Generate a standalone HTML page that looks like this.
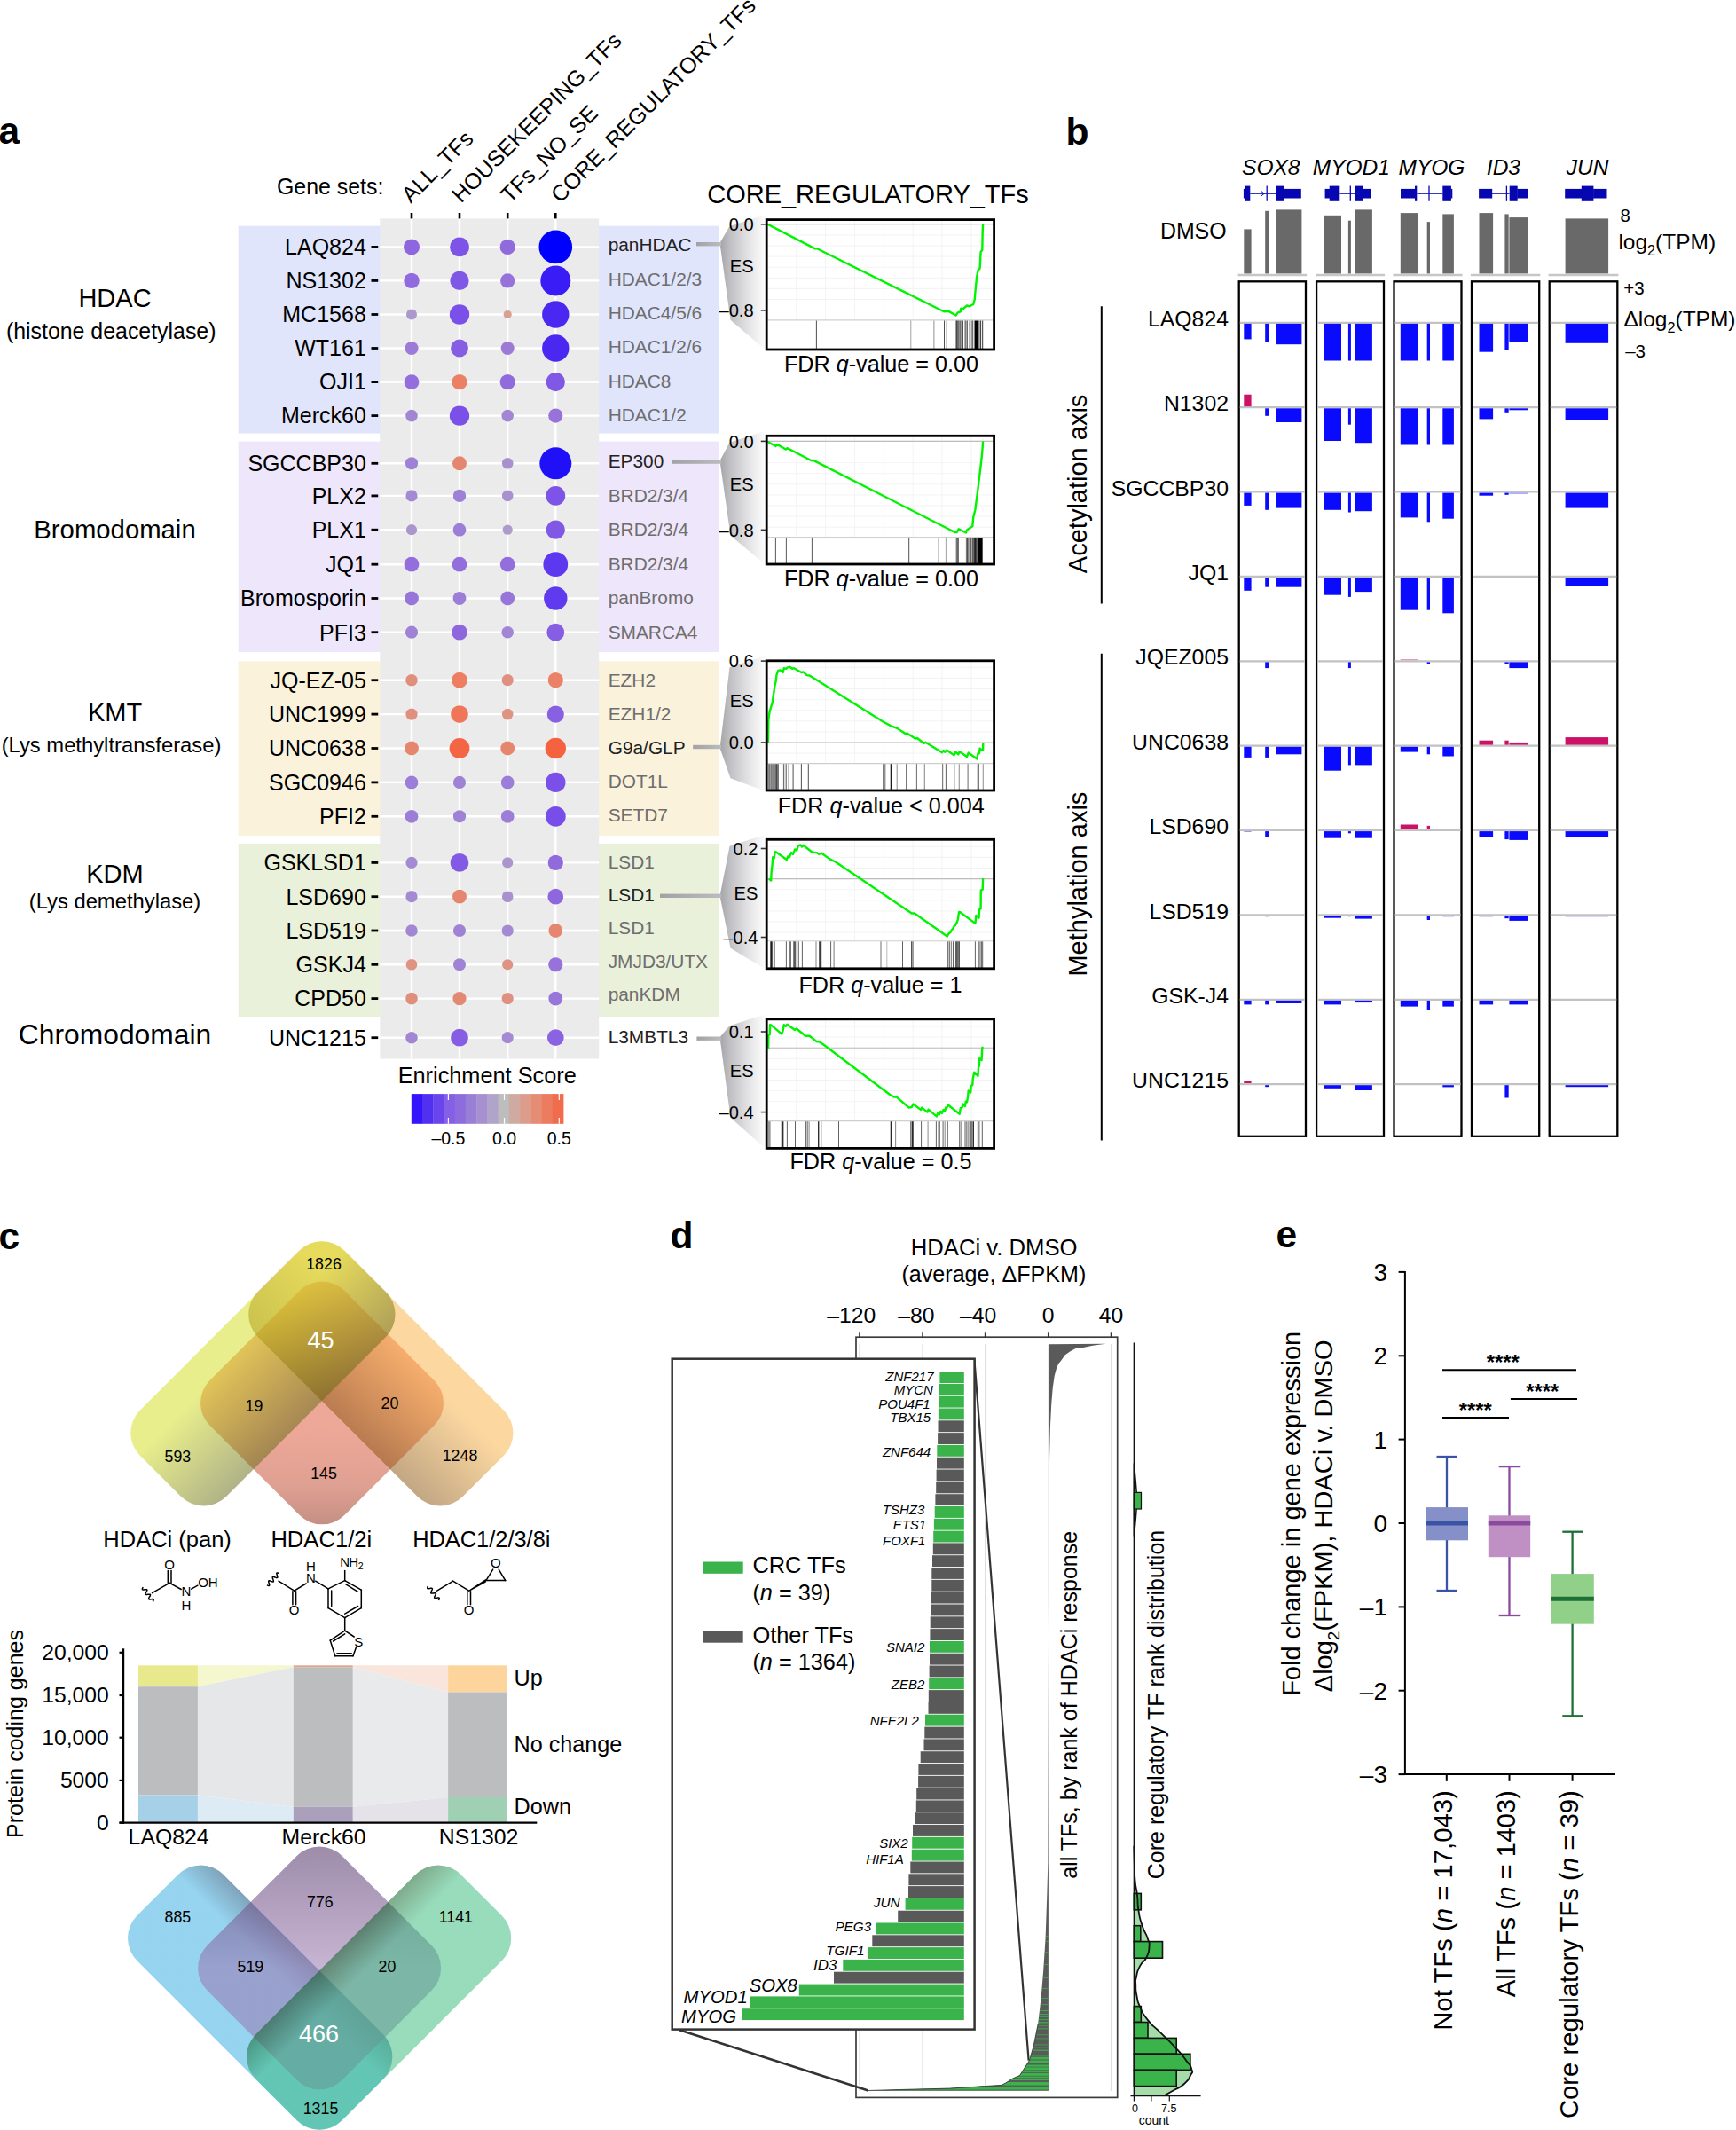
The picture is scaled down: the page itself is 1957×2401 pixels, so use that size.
<!DOCTYPE html>
<html lang="en"><head><meta charset="utf-8"><title>Figure</title>
<style>
html,body{margin:0;padding:0;background:#fff;}
body{width:1957px;height:2401px;overflow:hidden;}
svg{display:block;font-family:"Liberation Sans", "DejaVu Sans", sans-serif;}
</style></head><body>
<svg width="1957" height="2401" viewBox="0 0 1957 2401">
<rect width="1957" height="2401" fill="#ffffff"/>
<g id="panel-a">
<text x="-1.5" y="162.0" font-size="42.5" font-weight="bold">a</text>
<rect x="268.7" y="254.7" width="542.3" height="233.9" fill="#e0e5fb" />
<rect x="268.7" y="497.6" width="542.3" height="237.4" fill="#eee6fb" />
<rect x="268.7" y="745.3" width="542.3" height="196.7" fill="#fbf2dc" />
<rect x="268.7" y="951.0" width="542.3" height="195.0" fill="#eaf1da" />
<rect x="428.3" y="246.4" width="246.9" height="947.1" fill="#ebebeb" />
<line x1="464.0" y1="246.4" x2="464.0" y2="1193.5" stroke="#fff" stroke-width="2.4" />
<line x1="464.0" y1="240.0" x2="464.0" y2="246.4" stroke="#000" stroke-width="2.6" />
<line x1="518.0" y1="246.4" x2="518.0" y2="1193.5" stroke="#fff" stroke-width="2.4" />
<line x1="518.0" y1="240.0" x2="518.0" y2="246.4" stroke="#000" stroke-width="2.6" />
<line x1="572.2" y1="246.4" x2="572.2" y2="1193.5" stroke="#fff" stroke-width="2.4" />
<line x1="572.2" y1="240.0" x2="572.2" y2="246.4" stroke="#000" stroke-width="2.6" />
<line x1="626.3" y1="246.4" x2="626.3" y2="1193.5" stroke="#fff" stroke-width="2.4" />
<line x1="626.3" y1="240.0" x2="626.3" y2="246.4" stroke="#000" stroke-width="2.6" />
<line x1="428.3" y1="278.4" x2="675.2" y2="278.4" stroke="#fff" stroke-width="2.4" />
<line x1="428.3" y1="316.4" x2="675.2" y2="316.4" stroke="#fff" stroke-width="2.4" />
<line x1="428.3" y1="354.5" x2="675.2" y2="354.5" stroke="#fff" stroke-width="2.4" />
<line x1="428.3" y1="392.5" x2="675.2" y2="392.5" stroke="#fff" stroke-width="2.4" />
<line x1="428.3" y1="430.6" x2="675.2" y2="430.6" stroke="#fff" stroke-width="2.4" />
<line x1="428.3" y1="468.6" x2="675.2" y2="468.6" stroke="#fff" stroke-width="2.4" />
<line x1="428.3" y1="522.3" x2="675.2" y2="522.3" stroke="#fff" stroke-width="2.4" />
<line x1="428.3" y1="558.9" x2="675.2" y2="558.9" stroke="#fff" stroke-width="2.4" />
<line x1="428.3" y1="597.2" x2="675.2" y2="597.2" stroke="#fff" stroke-width="2.4" />
<line x1="428.3" y1="636.2" x2="675.2" y2="636.2" stroke="#fff" stroke-width="2.4" />
<line x1="428.3" y1="674.5" x2="675.2" y2="674.5" stroke="#fff" stroke-width="2.4" />
<line x1="428.3" y1="712.7" x2="675.2" y2="712.7" stroke="#fff" stroke-width="2.4" />
<line x1="428.3" y1="766.7" x2="675.2" y2="766.7" stroke="#fff" stroke-width="2.4" />
<line x1="428.3" y1="805.1" x2="675.2" y2="805.1" stroke="#fff" stroke-width="2.4" />
<line x1="428.3" y1="843.5" x2="675.2" y2="843.5" stroke="#fff" stroke-width="2.4" />
<line x1="428.3" y1="881.9" x2="675.2" y2="881.9" stroke="#fff" stroke-width="2.4" />
<line x1="428.3" y1="920.3" x2="675.2" y2="920.3" stroke="#fff" stroke-width="2.4" />
<line x1="428.3" y1="972.4" x2="675.2" y2="972.4" stroke="#fff" stroke-width="2.4" />
<line x1="428.3" y1="1010.7" x2="675.2" y2="1010.7" stroke="#fff" stroke-width="2.4" />
<line x1="428.3" y1="1049.0" x2="675.2" y2="1049.0" stroke="#fff" stroke-width="2.4" />
<line x1="428.3" y1="1087.3" x2="675.2" y2="1087.3" stroke="#fff" stroke-width="2.4" />
<line x1="428.3" y1="1125.6" x2="675.2" y2="1125.6" stroke="#fff" stroke-width="2.4" />
<line x1="428.3" y1="1169.7" x2="675.2" y2="1169.7" stroke="#fff" stroke-width="2.4" />
<text x="412.8" y="287.2" font-size="25.0" text-anchor="end">LAQ824</text>
<line x1="418.5" y1="278.4" x2="426.2" y2="278.4" stroke="#000" stroke-width="2.8" />
<text x="412.8" y="325.2" font-size="25.0" text-anchor="end">NS1302</text>
<line x1="418.5" y1="316.4" x2="426.2" y2="316.4" stroke="#000" stroke-width="2.8" />
<text x="412.8" y="363.3" font-size="25.0" text-anchor="end">MC1568</text>
<line x1="418.5" y1="354.5" x2="426.2" y2="354.5" stroke="#000" stroke-width="2.8" />
<text x="412.8" y="401.3" font-size="25.0" text-anchor="end">WT161</text>
<line x1="418.5" y1="392.5" x2="426.2" y2="392.5" stroke="#000" stroke-width="2.8" />
<text x="412.8" y="439.4" font-size="25.0" text-anchor="end">OJI1</text>
<line x1="418.5" y1="430.6" x2="426.2" y2="430.6" stroke="#000" stroke-width="2.8" />
<text x="412.8" y="477.4" font-size="25.0" text-anchor="end">Merck60</text>
<line x1="418.5" y1="468.6" x2="426.2" y2="468.6" stroke="#000" stroke-width="2.8" />
<text x="412.8" y="531.1" font-size="25.0" text-anchor="end">SGCCBP30</text>
<line x1="418.5" y1="522.3" x2="426.2" y2="522.3" stroke="#000" stroke-width="2.8" />
<text x="412.8" y="567.7" font-size="25.0" text-anchor="end">PLX2</text>
<line x1="418.5" y1="558.9" x2="426.2" y2="558.9" stroke="#000" stroke-width="2.8" />
<text x="412.8" y="606.0" font-size="25.0" text-anchor="end">PLX1</text>
<line x1="418.5" y1="597.2" x2="426.2" y2="597.2" stroke="#000" stroke-width="2.8" />
<text x="412.8" y="645.0" font-size="25.0" text-anchor="end">JQ1</text>
<line x1="418.5" y1="636.2" x2="426.2" y2="636.2" stroke="#000" stroke-width="2.8" />
<text x="412.8" y="683.3" font-size="25.0" text-anchor="end">Bromosporin</text>
<line x1="418.5" y1="674.5" x2="426.2" y2="674.5" stroke="#000" stroke-width="2.8" />
<text x="412.8" y="721.5" font-size="25.0" text-anchor="end">PFI3</text>
<line x1="418.5" y1="712.7" x2="426.2" y2="712.7" stroke="#000" stroke-width="2.8" />
<text x="412.8" y="775.5" font-size="25.0" text-anchor="end">JQ-EZ-05</text>
<line x1="418.5" y1="766.7" x2="426.2" y2="766.7" stroke="#000" stroke-width="2.8" />
<text x="412.8" y="813.9" font-size="25.0" text-anchor="end">UNC1999</text>
<line x1="418.5" y1="805.1" x2="426.2" y2="805.1" stroke="#000" stroke-width="2.8" />
<text x="412.8" y="852.3" font-size="25.0" text-anchor="end">UNC0638</text>
<line x1="418.5" y1="843.5" x2="426.2" y2="843.5" stroke="#000" stroke-width="2.8" />
<text x="412.8" y="890.7" font-size="25.0" text-anchor="end">SGC0946</text>
<line x1="418.5" y1="881.9" x2="426.2" y2="881.9" stroke="#000" stroke-width="2.8" />
<text x="412.8" y="929.1" font-size="25.0" text-anchor="end">PFI2</text>
<line x1="418.5" y1="920.3" x2="426.2" y2="920.3" stroke="#000" stroke-width="2.8" />
<text x="412.8" y="981.2" font-size="25.0" text-anchor="end">GSKLSD1</text>
<line x1="418.5" y1="972.4" x2="426.2" y2="972.4" stroke="#000" stroke-width="2.8" />
<text x="412.8" y="1019.5" font-size="25.0" text-anchor="end">LSD690</text>
<line x1="418.5" y1="1010.7" x2="426.2" y2="1010.7" stroke="#000" stroke-width="2.8" />
<text x="412.8" y="1057.8" font-size="25.0" text-anchor="end">LSD519</text>
<line x1="418.5" y1="1049.0" x2="426.2" y2="1049.0" stroke="#000" stroke-width="2.8" />
<text x="412.8" y="1096.1" font-size="25.0" text-anchor="end">GSKJ4</text>
<line x1="418.5" y1="1087.3" x2="426.2" y2="1087.3" stroke="#000" stroke-width="2.8" />
<text x="412.8" y="1134.4" font-size="25.0" text-anchor="end">CPD50</text>
<line x1="418.5" y1="1125.6" x2="426.2" y2="1125.6" stroke="#000" stroke-width="2.8" />
<text x="412.8" y="1178.5" font-size="25.0" text-anchor="end">UNC1215</text>
<line x1="418.5" y1="1169.7" x2="426.2" y2="1169.7" stroke="#000" stroke-width="2.8" />
<circle cx="464.0" cy="278.4" r="9.0" fill="#8d66e0"/>
<circle cx="518.0" cy="278.4" r="10.9" fill="#7d54e7"/>
<circle cx="572.2" cy="278.4" r="8.6" fill="#916bdd"/>
<circle cx="626.3" cy="278.4" r="18.8" fill="#0000ff"/>
<circle cx="464.0" cy="316.4" r="8.7" fill="#906ade"/>
<circle cx="518.0" cy="316.4" r="10.6" fill="#8058e6"/>
<circle cx="572.2" cy="316.4" r="8.1" fill="#9672da"/>
<circle cx="626.3" cy="316.4" r="17.0" fill="#3a1cf6"/>
<circle cx="464.0" cy="354.5" r="6.0" fill="#ab98cc"/>
<circle cx="518.0" cy="354.5" r="11.2" fill="#7a50e8"/>
<circle cx="572.2" cy="354.5" r="4.6" fill="#d9a193"/>
<circle cx="626.3" cy="354.5" r="15.2" fill="#4b28f2"/>
<circle cx="464.0" cy="392.5" r="7.6" fill="#9b7ad8"/>
<circle cx="518.0" cy="392.5" r="9.9" fill="#865ee4"/>
<circle cx="572.2" cy="392.5" r="7.5" fill="#9c7bd7"/>
<circle cx="626.3" cy="392.5" r="15.2" fill="#4b28f2"/>
<circle cx="464.0" cy="430.6" r="8.4" fill="#936edc"/>
<circle cx="518.0" cy="430.6" r="8.7" fill="#ec8065"/>
<circle cx="572.2" cy="430.6" r="8.6" fill="#916bdd"/>
<circle cx="626.3" cy="430.6" r="10.6" fill="#8058e6"/>
<circle cx="464.0" cy="468.6" r="6.8" fill="#a286d4"/>
<circle cx="518.0" cy="468.6" r="11.2" fill="#7a50e8"/>
<circle cx="572.2" cy="468.6" r="6.8" fill="#a286d4"/>
<circle cx="626.3" cy="468.6" r="8.1" fill="#9672da"/>
<circle cx="464.0" cy="522.3" r="7.1" fill="#9f81d5"/>
<circle cx="518.0" cy="522.3" r="8.0" fill="#e5866e"/>
<circle cx="572.2" cy="522.3" r="6.3" fill="#a891cf"/>
<circle cx="626.3" cy="522.3" r="18.0" fill="#2010f8"/>
<circle cx="464.0" cy="558.9" r="6.6" fill="#a48ad2"/>
<circle cx="518.0" cy="558.9" r="7.2" fill="#9e80d6"/>
<circle cx="572.2" cy="558.9" r="6.3" fill="#a891cf"/>
<circle cx="626.3" cy="558.9" r="10.9" fill="#7d54e7"/>
<circle cx="464.0" cy="597.2" r="6.1" fill="#aa96cd"/>
<circle cx="518.0" cy="597.2" r="7.4" fill="#9c7dd7"/>
<circle cx="572.2" cy="597.2" r="5.6" fill="#ad9bca"/>
<circle cx="626.3" cy="597.2" r="10.6" fill="#8058e6"/>
<circle cx="464.0" cy="636.2" r="8.4" fill="#936edc"/>
<circle cx="518.0" cy="636.2" r="8.4" fill="#936edc"/>
<circle cx="572.2" cy="636.2" r="8.4" fill="#936edc"/>
<circle cx="626.3" cy="636.2" r="13.9" fill="#5c38ee"/>
<circle cx="464.0" cy="674.5" r="7.9" fill="#9875d9"/>
<circle cx="518.0" cy="674.5" r="7.4" fill="#9c7dd7"/>
<circle cx="572.2" cy="674.5" r="7.9" fill="#9875d9"/>
<circle cx="626.3" cy="674.5" r="13.2" fill="#603aee"/>
<circle cx="464.0" cy="712.7" r="7.1" fill="#9f81d5"/>
<circle cx="518.0" cy="712.7" r="8.9" fill="#8e67df"/>
<circle cx="572.2" cy="712.7" r="6.8" fill="#a286d4"/>
<circle cx="626.3" cy="712.7" r="9.9" fill="#865ee4"/>
<circle cx="464.0" cy="766.7" r="6.8" fill="#e08f7d"/>
<circle cx="518.0" cy="766.7" r="8.9" fill="#ee7e62"/>
<circle cx="572.2" cy="766.7" r="6.6" fill="#df9080"/>
<circle cx="626.3" cy="766.7" r="8.6" fill="#eb8166"/>
<circle cx="464.0" cy="805.1" r="6.6" fill="#df9080"/>
<circle cx="518.0" cy="805.1" r="9.9" fill="#ef7658"/>
<circle cx="572.2" cy="805.1" r="6.3" fill="#de9383"/>
<circle cx="626.3" cy="805.1" r="9.6" fill="#8861e3"/>
<circle cx="464.0" cy="843.5" r="7.9" fill="#e5876f"/>
<circle cx="518.0" cy="843.5" r="11.4" fill="#f36543"/>
<circle cx="572.2" cy="843.5" r="7.9" fill="#e5876f"/>
<circle cx="626.3" cy="843.5" r="11.7" fill="#f4623f"/>
<circle cx="464.0" cy="881.9" r="7.4" fill="#9c7dd7"/>
<circle cx="518.0" cy="881.9" r="7.1" fill="#9f81d5"/>
<circle cx="572.2" cy="881.9" r="7.4" fill="#9c7dd7"/>
<circle cx="626.3" cy="881.9" r="11.2" fill="#7a50e8"/>
<circle cx="464.0" cy="920.3" r="7.4" fill="#9c7dd7"/>
<circle cx="518.0" cy="920.3" r="7.1" fill="#9f81d5"/>
<circle cx="572.2" cy="920.3" r="7.4" fill="#9c7dd7"/>
<circle cx="626.3" cy="920.3" r="11.4" fill="#774ee9"/>
<circle cx="464.0" cy="972.4" r="6.6" fill="#a48ad2"/>
<circle cx="518.0" cy="972.4" r="10.4" fill="#825ae5"/>
<circle cx="572.2" cy="972.4" r="6.1" fill="#aa96cd"/>
<circle cx="626.3" cy="972.4" r="8.6" fill="#916bdd"/>
<circle cx="464.0" cy="1010.7" r="6.6" fill="#a48ad2"/>
<circle cx="518.0" cy="1010.7" r="7.9" fill="#e5876f"/>
<circle cx="572.2" cy="1010.7" r="6.3" fill="#a891cf"/>
<circle cx="626.3" cy="1010.7" r="8.9" fill="#8e67df"/>
<circle cx="464.0" cy="1049.0" r="6.8" fill="#a286d4"/>
<circle cx="518.0" cy="1049.0" r="7.1" fill="#9f81d5"/>
<circle cx="572.2" cy="1049.0" r="6.6" fill="#a48ad2"/>
<circle cx="626.3" cy="1049.0" r="7.9" fill="#e5876f"/>
<circle cx="464.0" cy="1087.3" r="6.3" fill="#de9383"/>
<circle cx="518.0" cy="1087.3" r="7.0" fill="#a083d5"/>
<circle cx="572.2" cy="1087.3" r="6.1" fill="#de9485"/>
<circle cx="626.3" cy="1087.3" r="8.1" fill="#9672da"/>
<circle cx="464.0" cy="1125.6" r="6.8" fill="#e08f7d"/>
<circle cx="518.0" cy="1125.6" r="7.6" fill="#e38973"/>
<circle cx="572.2" cy="1125.6" r="6.6" fill="#df9080"/>
<circle cx="626.3" cy="1125.6" r="7.9" fill="#9875d9"/>
<circle cx="464.0" cy="1169.7" r="6.8" fill="#a286d4"/>
<circle cx="518.0" cy="1169.7" r="9.9" fill="#865ee4"/>
<circle cx="572.2" cy="1169.7" r="6.6" fill="#a48ad2"/>
<circle cx="626.3" cy="1169.7" r="9.4" fill="#8a62e2"/>
<text x="312.0" y="219.0" font-size="24.9">Gene sets:</text>
<text x="463.1" y="229.8" font-size="25.1" transform="rotate(-45 463.1 229.8)">ALL_TFs</text>
<text x="519.8" y="229.8" font-size="25.1" transform="rotate(-45 519.8 229.8)">HOUSEKEEPING_TFs</text>
<text x="574.7" y="229.8" font-size="25.1" transform="rotate(-45 574.7 229.8)">TFs_NO_SE</text>
<text x="631.6" y="229.8" font-size="25.1" transform="rotate(-45 631.6 229.8)">CORE_REGULATORY_TFs</text>
<text x="129.5" y="345.6" font-size="29.0" text-anchor="middle">HDAC</text>
<text x="125.2" y="381.6" font-size="24.9" text-anchor="middle">(histone deacetylase)</text>
<text x="129.5" y="607.4" font-size="29.3" text-anchor="middle">Bromodomain</text>
<text x="129.5" y="812.9" font-size="29.0" text-anchor="middle">KMT</text>
<text x="125.5" y="848.4" font-size="23.8" text-anchor="middle">(Lys methyltransferase)</text>
<text x="129.5" y="994.9" font-size="29.0" text-anchor="middle">KDM</text>
<text x="129.5" y="1024.0" font-size="23.8" text-anchor="middle">(Lys demethylase)</text>
<text x="129.5" y="1177.0" font-size="31.8" text-anchor="middle">Chromodomain</text>
<text x="685.7" y="283.1" font-size="20.85" fill="#222">panHDAC</text>
<text x="685.7" y="321.5" font-size="20.85" fill="#6e6e6e">HDAC1/2/3</text>
<text x="685.7" y="359.8" font-size="20.85" fill="#6e6e6e">HDAC4/5/6</text>
<text x="685.7" y="398.2" font-size="20.85" fill="#6e6e6e">HDAC1/2/6</text>
<text x="685.7" y="436.5" font-size="20.85" fill="#6e6e6e">HDAC8</text>
<text x="685.7" y="474.9" font-size="20.85" fill="#6e6e6e">HDAC1/2</text>
<text x="685.7" y="527.1" font-size="20.85" fill="#222">EP300</text>
<text x="685.7" y="565.6" font-size="20.85" fill="#6e6e6e">BRD2/3/4</text>
<text x="685.7" y="604.1" font-size="20.85" fill="#6e6e6e">BRD2/3/4</text>
<text x="685.7" y="642.6" font-size="20.85" fill="#6e6e6e">BRD2/3/4</text>
<text x="685.7" y="681.1" font-size="20.85" fill="#6e6e6e">panBromo</text>
<text x="685.7" y="719.6" font-size="20.85" fill="#6e6e6e">SMARCA4</text>
<text x="685.7" y="773.5" font-size="20.85" fill="#6e6e6e">EZH2</text>
<text x="685.7" y="811.5" font-size="20.85" fill="#6e6e6e">EZH1/2</text>
<text x="685.7" y="849.5" font-size="20.85" fill="#222">G9a/GLP</text>
<text x="685.7" y="887.5" font-size="20.85" fill="#6e6e6e">DOT1L</text>
<text x="685.7" y="925.5" font-size="20.85" fill="#6e6e6e">SETD7</text>
<text x="685.7" y="978.8" font-size="20.85" fill="#6e6e6e">LSD1</text>
<text x="685.7" y="1016.1" font-size="20.85" fill="#222">LSD1</text>
<text x="685.7" y="1053.4" font-size="20.85" fill="#6e6e6e">LSD1</text>
<text x="685.7" y="1090.7" font-size="20.85" fill="#6e6e6e">JMJD3/UTX</text>
<text x="685.7" y="1128.0" font-size="20.85" fill="#6e6e6e">panKDM</text>
<text x="685.7" y="1176.2" font-size="20.85" fill="#222">L3MBTL3</text>
<text x="549.2" y="1221.0" font-size="25.3" text-anchor="middle">Enrichment Score</text>
<rect x="463.8" y="1233.1" width="12.6" height="33.7" fill="#3414fa" />
<rect x="476.0" y="1233.1" width="12.6" height="33.7" fill="#5230f2" />
<rect x="488.3" y="1233.1" width="12.6" height="33.7" fill="#6a44ec" />
<rect x="500.5" y="1233.1" width="12.6" height="33.7" fill="#8560e6" />
<rect x="512.7" y="1233.1" width="12.6" height="33.7" fill="#8e6cde" />
<rect x="524.9" y="1233.1" width="12.6" height="33.7" fill="#9a7fd6" />
<rect x="537.2" y="1233.1" width="12.6" height="33.7" fill="#a690d0" />
<rect x="549.4" y="1233.1" width="12.6" height="33.7" fill="#b0a4c8" />
<rect x="561.6" y="1233.1" width="12.6" height="33.7" fill="#bdbdbd" />
<rect x="573.9" y="1233.1" width="12.6" height="33.7" fill="#cfaaa0" />
<rect x="586.1" y="1233.1" width="12.6" height="33.7" fill="#dc9c8c" />
<rect x="598.3" y="1233.1" width="12.6" height="33.7" fill="#e58c74" />
<rect x="610.5" y="1233.1" width="12.6" height="33.7" fill="#ec7c60" />
<rect x="622.8" y="1233.1" width="12.6" height="33.7" fill="#f06c4c" />
<line x1="505.4" y1="1233.1" x2="505.4" y2="1240.0" stroke="#fff" stroke-width="1.2" />
<line x1="505.4" y1="1260.0" x2="505.4" y2="1266.8" stroke="#fff" stroke-width="1.2" />
<text x="505.4" y="1290.0" font-size="19.5" text-anchor="middle">–0.5</text>
<line x1="568.5" y1="1233.1" x2="568.5" y2="1240.0" stroke="#fff" stroke-width="1.2" />
<line x1="568.5" y1="1260.0" x2="568.5" y2="1266.8" stroke="#fff" stroke-width="1.2" />
<text x="568.5" y="1290.0" font-size="19.5" text-anchor="middle">0.0</text>
<line x1="630.3" y1="1233.1" x2="630.3" y2="1240.0" stroke="#fff" stroke-width="1.2" />
<line x1="630.3" y1="1260.0" x2="630.3" y2="1266.8" stroke="#fff" stroke-width="1.2" />
<text x="630.3" y="1290.0" font-size="19.5" text-anchor="middle">0.5</text>
</g>
<g id="gsea">
<defs><linearGradient id="fan" x1="0" x2="1" y1="0" y2="0"><stop offset="0" stop-color="#a6a6aa"/><stop offset="0.25" stop-color="#c4c4c8"/><stop offset="0.62" stop-color="#e4e4e6"/><stop offset="1" stop-color="#ffffff"/></linearGradient><linearGradient id="conn" x1="0" x2="1" y1="0" y2="0"><stop offset="0" stop-color="#a2a2a6"/><stop offset="1" stop-color="#bcbcbe"/></linearGradient></defs>
<text x="978.5" y="229.2" font-size="29" text-anchor="middle">CORE_REGULATORY_TFs</text>
<polygon points="812.0,273.0 822.5,255.1 864.2,241.6 864.2,395.5 823.5,360.7 812.0,277.4" fill="url(#fan)" stroke="none" stroke-width="0" />
<rect x="785.0" y="273.0" width="28.0" height="4.4" fill="url(#conn)" />
<rect x="864.2" y="247.6" width="256.4" height="146.4" fill="#fff" />
<line x1="897.8" y1="247.6" x2="897.8" y2="360.9" stroke="#f0f0f0" stroke-width="0.8" />
<line x1="930.6" y1="247.6" x2="930.6" y2="360.9" stroke="#f0f0f0" stroke-width="0.8" />
<line x1="963.5" y1="247.6" x2="963.5" y2="360.9" stroke="#f0f0f0" stroke-width="0.8" />
<line x1="996.3" y1="247.6" x2="996.3" y2="360.9" stroke="#f0f0f0" stroke-width="0.8" />
<line x1="1029.2" y1="247.6" x2="1029.2" y2="360.9" stroke="#f0f0f0" stroke-width="0.8" />
<line x1="1062.0" y1="247.6" x2="1062.0" y2="360.9" stroke="#f0f0f0" stroke-width="0.8" />
<line x1="1094.9" y1="247.6" x2="1094.9" y2="360.9" stroke="#f0f0f0" stroke-width="0.8" />
<line x1="864.2" y1="252.8" x2="1120.6" y2="252.8" stroke="#f0f0f0" stroke-width="0.8" />
<line x1="864.2" y1="264.9" x2="1120.6" y2="264.9" stroke="#f0f0f0" stroke-width="0.8" />
<line x1="864.2" y1="277.0" x2="1120.6" y2="277.0" stroke="#f0f0f0" stroke-width="0.8" />
<line x1="864.2" y1="289.1" x2="1120.6" y2="289.1" stroke="#f0f0f0" stroke-width="0.8" />
<line x1="864.2" y1="301.2" x2="1120.6" y2="301.2" stroke="#f0f0f0" stroke-width="0.8" />
<line x1="864.2" y1="313.3" x2="1120.6" y2="313.3" stroke="#f0f0f0" stroke-width="0.8" />
<line x1="864.2" y1="325.4" x2="1120.6" y2="325.4" stroke="#f0f0f0" stroke-width="0.8" />
<line x1="864.2" y1="337.5" x2="1120.6" y2="337.5" stroke="#f0f0f0" stroke-width="0.8" />
<line x1="864.2" y1="349.6" x2="1120.6" y2="349.6" stroke="#f0f0f0" stroke-width="0.8" />
<line x1="864.2" y1="252.8" x2="1120.6" y2="252.8" stroke="#bdbdbd" stroke-width="1.1" />
<line x1="864.2" y1="360.9" x2="1120.6" y2="360.9" stroke="#cfcfcf" stroke-width="1.1" />
<line x1="920.4" y1="361.5" x2="920.4" y2="394.0" stroke="#3c3c3c" stroke-width="0.9" />
<line x1="1026.8" y1="361.5" x2="1026.8" y2="394.0" stroke="#969696" stroke-width="0.9" />
<line x1="1052.9" y1="361.5" x2="1052.9" y2="394.0" stroke="#828282" stroke-width="0.9" />
<line x1="1064.5" y1="361.5" x2="1064.5" y2="394.0" stroke="#3c3c3c" stroke-width="0.9" />
<line x1="1067.2" y1="361.5" x2="1067.2" y2="394.0" stroke="#505050" stroke-width="0.9" />
<line x1="1078.0" y1="361.5" x2="1078.0" y2="394.0" stroke="#1e1e1e" stroke-width="0.9" />
<line x1="1078.8" y1="361.5" x2="1078.8" y2="394.0" stroke="#1e1e1e" stroke-width="0.9" />
<line x1="1079.9" y1="361.5" x2="1079.9" y2="394.0" stroke="#1e1e1e" stroke-width="0.9" />
<line x1="1080.9" y1="361.5" x2="1080.9" y2="394.0" stroke="#3c3c3c" stroke-width="0.9" />
<line x1="1082.2" y1="361.5" x2="1082.2" y2="394.0" stroke="#1e1e1e" stroke-width="0.9" />
<line x1="1083.8" y1="361.5" x2="1083.8" y2="394.0" stroke="#646464" stroke-width="0.9" />
<line x1="1085.5" y1="361.5" x2="1085.5" y2="394.0" stroke="#3c3c3c" stroke-width="0.9" />
<line x1="1088.0" y1="361.5" x2="1088.0" y2="394.0" stroke="#5a5a5a" stroke-width="0.9" />
<line x1="1089.0" y1="361.5" x2="1089.0" y2="394.0" stroke="#3c3c3c" stroke-width="0.9" />
<line x1="1090.5" y1="361.5" x2="1090.5" y2="394.0" stroke="#5a5a5a" stroke-width="0.9" />
<line x1="1093.1" y1="361.5" x2="1093.1" y2="394.0" stroke="#3c3c3c" stroke-width="0.9" />
<line x1="1095.2" y1="361.5" x2="1095.2" y2="394.0" stroke="#5a5a5a" stroke-width="0.9" />
<line x1="1096.7" y1="361.5" x2="1096.7" y2="394.0" stroke="#3c3c3c" stroke-width="0.9" />
<line x1="1100.4" y1="361.5" x2="1100.4" y2="394.0" stroke="#000000" stroke-width="3.7800000000000002" />
<line x1="1103.9" y1="361.5" x2="1103.9" y2="394.0" stroke="#1e1e1e" stroke-width="0.9" />
<line x1="1105.6" y1="361.5" x2="1105.6" y2="394.0" stroke="#1e1e1e" stroke-width="0.9" />
<line x1="1107.7" y1="361.5" x2="1107.7" y2="394.0" stroke="#1e1e1e" stroke-width="0.9" />
<polyline points="865.4,252.8 918.9,280.4 921.0,280.2 1064.1,351.3 1069.3,350.9 1077.6,355.5 1079.7,352.4 1082.8,351.3 1083.2,347.8 1085.9,348.2 1090.0,344.5 1093.1,345.3 1097.3,343.0 1098.7,337.8 1099.4,329.5 1101.0,313.0 1102.5,304.7 1104.6,302.6 1105.6,283.9 1107.3,281.8 1107.7,261.1 1108.1,252.8" fill="none" stroke="#00f400" stroke-width="2.4" stroke-linejoin="round"/>
<rect x="864.2" y="247.6" width="256.4" height="146.4" fill="none" stroke="#000" stroke-width="2.8"/>
<line x1="857.8" y1="252.8" x2="863.0" y2="252.8" stroke="#333" stroke-width="1.6" />
<text x="849.6" y="259.9" font-size="20.1" text-anchor="end">0.0</text>
<line x1="857.8" y1="349.9" x2="863.0" y2="349.9" stroke="#333" stroke-width="1.6" />
<text x="849.6" y="357.0" font-size="20.1" text-anchor="end">–0.8</text>
<text x="836.2" y="307.0" font-size="20.1" text-anchor="middle">ES</text>
<text x="993.5" y="419.1" font-size="25.2" text-anchor="middle">FDR <tspan font-style="italic">q</tspan>-value = 0.00</text>
<polygon points="812.0,518.4 822.5,498.8 864.2,485.3 864.2,637.5 823.5,603.7 812.0,522.8" fill="url(#fan)" stroke="none" stroke-width="0" />
<rect x="757.0" y="518.4" width="56.0" height="4.4" fill="url(#conn)" />
<rect x="864.2" y="491.3" width="256.4" height="144.7" fill="#fff" />
<line x1="897.8" y1="491.3" x2="897.8" y2="605.6" stroke="#f0f0f0" stroke-width="0.8" />
<line x1="930.6" y1="491.3" x2="930.6" y2="605.6" stroke="#f0f0f0" stroke-width="0.8" />
<line x1="963.5" y1="491.3" x2="963.5" y2="605.6" stroke="#f0f0f0" stroke-width="0.8" />
<line x1="996.3" y1="491.3" x2="996.3" y2="605.6" stroke="#f0f0f0" stroke-width="0.8" />
<line x1="1029.2" y1="491.3" x2="1029.2" y2="605.6" stroke="#f0f0f0" stroke-width="0.8" />
<line x1="1062.0" y1="491.3" x2="1062.0" y2="605.6" stroke="#f0f0f0" stroke-width="0.8" />
<line x1="1094.9" y1="491.3" x2="1094.9" y2="605.6" stroke="#f0f0f0" stroke-width="0.8" />
<line x1="864.2" y1="497.4" x2="1120.6" y2="497.4" stroke="#f0f0f0" stroke-width="0.8" />
<line x1="864.2" y1="509.5" x2="1120.6" y2="509.5" stroke="#f0f0f0" stroke-width="0.8" />
<line x1="864.2" y1="521.6" x2="1120.6" y2="521.6" stroke="#f0f0f0" stroke-width="0.8" />
<line x1="864.2" y1="533.7" x2="1120.6" y2="533.7" stroke="#f0f0f0" stroke-width="0.8" />
<line x1="864.2" y1="545.8" x2="1120.6" y2="545.8" stroke="#f0f0f0" stroke-width="0.8" />
<line x1="864.2" y1="557.9" x2="1120.6" y2="557.9" stroke="#f0f0f0" stroke-width="0.8" />
<line x1="864.2" y1="570.0" x2="1120.6" y2="570.0" stroke="#f0f0f0" stroke-width="0.8" />
<line x1="864.2" y1="582.1" x2="1120.6" y2="582.1" stroke="#f0f0f0" stroke-width="0.8" />
<line x1="864.2" y1="594.2" x2="1120.6" y2="594.2" stroke="#f0f0f0" stroke-width="0.8" />
<line x1="864.2" y1="497.4" x2="1120.6" y2="497.4" stroke="#bdbdbd" stroke-width="1.1" />
<line x1="864.2" y1="605.6" x2="1120.6" y2="605.6" stroke="#cfcfcf" stroke-width="1.1" />
<line x1="874.4" y1="606.2" x2="874.4" y2="636.0" stroke="#464646" stroke-width="0.9" />
<line x1="886.4" y1="606.2" x2="886.4" y2="636.0" stroke="#464646" stroke-width="0.9" />
<line x1="915.4" y1="606.2" x2="915.4" y2="636.0" stroke="#464646" stroke-width="0.9" />
<line x1="1024.7" y1="606.2" x2="1024.7" y2="636.0" stroke="#3c3c3c" stroke-width="0.9" />
<line x1="1057.9" y1="606.2" x2="1057.9" y2="636.0" stroke="#a0a0a0" stroke-width="0.9" />
<line x1="1066.4" y1="606.2" x2="1066.4" y2="636.0" stroke="#969696" stroke-width="0.9" />
<line x1="1078.2" y1="606.2" x2="1078.2" y2="636.0" stroke="#3c3c3c" stroke-width="0.9" />
<line x1="1079.3" y1="606.2" x2="1079.3" y2="636.0" stroke="#3c3c3c" stroke-width="0.9" />
<line x1="1080.3" y1="606.2" x2="1080.3" y2="636.0" stroke="#3c3c3c" stroke-width="0.9" />
<line x1="1089.4" y1="606.2" x2="1089.4" y2="636.0" stroke="#5a5a5a" stroke-width="0.9" />
<line x1="1090.5" y1="606.2" x2="1090.5" y2="636.0" stroke="#3c3c3c" stroke-width="0.9" />
<line x1="1091.7" y1="606.2" x2="1091.7" y2="636.0" stroke="#5a5a5a" stroke-width="0.9" />
<line x1="1093.1" y1="606.2" x2="1093.1" y2="636.0" stroke="#3c3c3c" stroke-width="0.9" />
<line x1="1094.4" y1="606.2" x2="1094.4" y2="636.0" stroke="#3c3c3c" stroke-width="0.9" />
<line x1="1096.1" y1="606.2" x2="1096.1" y2="636.0" stroke="#1e1e1e" stroke-width="0.9" />
<line x1="1097.1" y1="606.2" x2="1097.1" y2="636.0" stroke="#1e1e1e" stroke-width="0.9" />
<line x1="1098.3" y1="606.2" x2="1098.3" y2="636.0" stroke="#141414" stroke-width="1.08" />
<line x1="1099.6" y1="606.2" x2="1099.6" y2="636.0" stroke="#141414" stroke-width="1.08" />
<line x1="1100.8" y1="606.2" x2="1100.8" y2="636.0" stroke="#141414" stroke-width="1.08" />
<line x1="1102.1" y1="606.2" x2="1102.1" y2="636.0" stroke="#141414" stroke-width="1.08" />
<line x1="1105.2" y1="606.2" x2="1105.2" y2="636.0" stroke="#000000" stroke-width="4.95" />
<polyline points="865.4,497.8 874.4,503.0 875.8,500.9 885.8,506.5 887.4,505.1 914.8,519.2 916.5,518.6 1067.2,595.3 1076.6,600.1 1078.6,600.1 1080.7,596.3 1089.0,600.5 1090.0,597.4 1093.1,595.3 1096.3,593.2 1097.3,582.8 1099.4,574.5 1101.0,562.1 1102.9,547.6 1104.6,533.1 1106.6,516.5 1107.7,504.0 1108.1,497.4" fill="none" stroke="#00f400" stroke-width="2.4" stroke-linejoin="round"/>
<rect x="864.2" y="491.3" width="256.4" height="144.7" fill="none" stroke="#000" stroke-width="2.8"/>
<line x1="857.8" y1="497.4" x2="863.0" y2="497.4" stroke="#333" stroke-width="1.6" />
<text x="849.6" y="504.5" font-size="20.1" text-anchor="end">0.0</text>
<line x1="857.8" y1="597.4" x2="863.0" y2="597.4" stroke="#333" stroke-width="1.6" />
<text x="849.6" y="604.5" font-size="20.1" text-anchor="end">–0.8</text>
<text x="836.2" y="553.0" font-size="20.1" text-anchor="middle">ES</text>
<text x="993.5" y="660.8" font-size="25.2" text-anchor="middle">FDR <tspan font-style="italic">q</tspan>-value = 0.00</text>
<polygon points="812.0,839.8 822.5,752.3 864.2,738.8 864.2,892.5 823.5,877.3 812.0,844.2" fill="url(#fan)" stroke="none" stroke-width="0" />
<rect x="781.2" y="839.8" width="31.8" height="4.4" fill="url(#conn)" />
<rect x="864.2" y="744.8" width="256.4" height="146.2" fill="#fff" />
<line x1="897.8" y1="744.8" x2="897.8" y2="860.6" stroke="#f0f0f0" stroke-width="0.8" />
<line x1="930.6" y1="744.8" x2="930.6" y2="860.6" stroke="#f0f0f0" stroke-width="0.8" />
<line x1="963.5" y1="744.8" x2="963.5" y2="860.6" stroke="#f0f0f0" stroke-width="0.8" />
<line x1="996.3" y1="744.8" x2="996.3" y2="860.6" stroke="#f0f0f0" stroke-width="0.8" />
<line x1="1029.2" y1="744.8" x2="1029.2" y2="860.6" stroke="#f0f0f0" stroke-width="0.8" />
<line x1="1062.0" y1="744.8" x2="1062.0" y2="860.6" stroke="#f0f0f0" stroke-width="0.8" />
<line x1="1094.9" y1="744.8" x2="1094.9" y2="860.6" stroke="#f0f0f0" stroke-width="0.8" />
<line x1="864.2" y1="752.3" x2="1120.6" y2="752.3" stroke="#f0f0f0" stroke-width="0.8" />
<line x1="864.2" y1="764.4" x2="1120.6" y2="764.4" stroke="#f0f0f0" stroke-width="0.8" />
<line x1="864.2" y1="776.5" x2="1120.6" y2="776.5" stroke="#f0f0f0" stroke-width="0.8" />
<line x1="864.2" y1="788.6" x2="1120.6" y2="788.6" stroke="#f0f0f0" stroke-width="0.8" />
<line x1="864.2" y1="800.7" x2="1120.6" y2="800.7" stroke="#f0f0f0" stroke-width="0.8" />
<line x1="864.2" y1="812.8" x2="1120.6" y2="812.8" stroke="#f0f0f0" stroke-width="0.8" />
<line x1="864.2" y1="824.9" x2="1120.6" y2="824.9" stroke="#f0f0f0" stroke-width="0.8" />
<line x1="864.2" y1="837.0" x2="1120.6" y2="837.0" stroke="#f0f0f0" stroke-width="0.8" />
<line x1="864.2" y1="849.1" x2="1120.6" y2="849.1" stroke="#f0f0f0" stroke-width="0.8" />
<line x1="864.2" y1="837.0" x2="1120.6" y2="837.0" stroke="#bdbdbd" stroke-width="1.1" />
<line x1="864.2" y1="860.6" x2="1120.6" y2="860.6" stroke="#cfcfcf" stroke-width="1.1" />
<line x1="866.5" y1="861.2" x2="866.5" y2="891.0" stroke="#6e6e6e" stroke-width="0.81" />
<line x1="867.5" y1="861.2" x2="867.5" y2="891.0" stroke="#5a5a5a" stroke-width="0.81" />
<line x1="868.6" y1="861.2" x2="868.6" y2="891.0" stroke="#787878" stroke-width="0.81" />
<line x1="869.6" y1="861.2" x2="869.6" y2="891.0" stroke="#505050" stroke-width="0.81" />
<line x1="870.6" y1="861.2" x2="870.6" y2="891.0" stroke="#646464" stroke-width="0.81" />
<line x1="871.7" y1="861.2" x2="871.7" y2="891.0" stroke="#464646" stroke-width="0.81" />
<line x1="872.7" y1="861.2" x2="872.7" y2="891.0" stroke="#323232" stroke-width="0.81" />
<line x1="873.7" y1="861.2" x2="873.7" y2="891.0" stroke="#5a5a5a" stroke-width="0.81" />
<line x1="874.8" y1="861.2" x2="874.8" y2="891.0" stroke="#282828" stroke-width="0.9" />
<line x1="875.8" y1="861.2" x2="875.8" y2="891.0" stroke="#1e1e1e" stroke-width="1.08" />
<line x1="877.1" y1="861.2" x2="877.1" y2="891.0" stroke="#282828" stroke-width="1.08" />
<line x1="881.6" y1="861.2" x2="881.6" y2="891.0" stroke="#787878" stroke-width="0.9" />
<line x1="883.7" y1="861.2" x2="883.7" y2="891.0" stroke="#3c3c3c" stroke-width="0.9" />
<line x1="886.2" y1="861.2" x2="886.2" y2="891.0" stroke="#3c3c3c" stroke-width="0.9" />
<line x1="889.1" y1="861.2" x2="889.1" y2="891.0" stroke="#5a5a5a" stroke-width="0.9" />
<line x1="894.1" y1="861.2" x2="894.1" y2="891.0" stroke="#3c3c3c" stroke-width="0.9" />
<line x1="903.4" y1="861.2" x2="903.4" y2="891.0" stroke="#3c3c3c" stroke-width="0.9" />
<line x1="911.3" y1="861.2" x2="911.3" y2="891.0" stroke="#3c3c3c" stroke-width="0.9" />
<line x1="995.7" y1="861.2" x2="995.7" y2="891.0" stroke="#505050" stroke-width="0.9" />
<line x1="997.8" y1="861.2" x2="997.8" y2="891.0" stroke="#505050" stroke-width="0.9" />
<line x1="1004.4" y1="861.2" x2="1004.4" y2="891.0" stroke="#1e1e1e" stroke-width="1.35" />
<line x1="1011.2" y1="861.2" x2="1011.2" y2="891.0" stroke="#969696" stroke-width="1.08" />
<line x1="1021.6" y1="861.2" x2="1021.6" y2="891.0" stroke="#5a5a5a" stroke-width="0.9" />
<line x1="1033.4" y1="861.2" x2="1033.4" y2="891.0" stroke="#5a5a5a" stroke-width="0.9" />
<line x1="1042.3" y1="861.2" x2="1042.3" y2="891.0" stroke="#8c8c8c" stroke-width="1.08" />
<line x1="1062.7" y1="861.2" x2="1062.7" y2="891.0" stroke="#505050" stroke-width="0.9" />
<line x1="1066.4" y1="861.2" x2="1066.4" y2="891.0" stroke="#505050" stroke-width="0.9" />
<line x1="1075.9" y1="861.2" x2="1075.9" y2="891.0" stroke="#8c8c8c" stroke-width="1.08" />
<line x1="1081.3" y1="861.2" x2="1081.3" y2="891.0" stroke="#969696" stroke-width="1.08" />
<line x1="1091.1" y1="861.2" x2="1091.1" y2="891.0" stroke="#5a5a5a" stroke-width="0.9" />
<line x1="1102.5" y1="861.2" x2="1102.5" y2="891.0" stroke="#969696" stroke-width="1.8" />
<line x1="1103.5" y1="861.2" x2="1103.5" y2="891.0" stroke="#6e6e6e" stroke-width="0.9" />
<line x1="1108.3" y1="861.2" x2="1108.3" y2="891.0" stroke="#969696" stroke-width="1.08" />
<polyline points="865.9,837.0 866.3,811.9 867.5,802.6 869.2,796.8 870.8,791.8 871.5,786.0 872.5,779.8 873.3,773.6 874.8,767.3 875.4,761.1 877.1,755.9 879.5,755.3 882.7,758.0 883.7,753.2 886.2,753.8 887.8,752.4 890.3,751.8 893.0,753.8 895.1,753.2 903.4,758.0 905.5,757.4 909.6,761.1 912.7,761.5 994.6,813.0 1004.0,818.1 1011.2,820.8 1020.6,827.1 1022.6,826.4 1032.0,832.7 1034.0,832.0 1041.3,837.8 1043.4,836.8 1062.0,848.2 1063.7,846.1 1065.2,847.8 1067.2,845.5 1075.5,851.3 1077.2,847.8 1080.3,850.3 1081.7,847.2 1090.0,853.0 1091.7,848.6 1101.4,855.5 1102.5,849.2 1103.9,849.2 1104.6,843.6 1107.3,845.7 1108.1,845.7 1108.3,837.0" fill="none" stroke="#00f400" stroke-width="2.4" stroke-linejoin="round"/>
<rect x="864.2" y="744.8" width="256.4" height="146.2" fill="none" stroke="#000" stroke-width="2.8"/>
<line x1="857.8" y1="745.1" x2="863.0" y2="745.1" stroke="#333" stroke-width="1.6" />
<text x="849.6" y="752.2" font-size="20.1" text-anchor="end">0.6</text>
<line x1="857.8" y1="837.0" x2="863.0" y2="837.0" stroke="#333" stroke-width="1.6" />
<text x="849.6" y="844.1" font-size="20.1" text-anchor="end">0.0</text>
<text x="836.2" y="797.0" font-size="20.1" text-anchor="middle">ES</text>
<text x="993.3" y="917.0" font-size="25.2" text-anchor="middle">FDR <tspan font-style="italic">q</tspan>-value &lt; 0.004</text>
<polygon points="812.0,1007.6 822.5,953.8 864.2,940.3 864.2,1093.3 823.5,1068.8 812.0,1012.0" fill="url(#fan)" stroke="none" stroke-width="0" />
<rect x="744.0" y="1007.6" width="69.0" height="4.4" fill="url(#conn)" />
<rect x="864.2" y="946.3" width="256.4" height="145.5" fill="#fff" />
<line x1="897.8" y1="946.3" x2="897.8" y2="1060.7" stroke="#f0f0f0" stroke-width="0.8" />
<line x1="930.6" y1="946.3" x2="930.6" y2="1060.7" stroke="#f0f0f0" stroke-width="0.8" />
<line x1="963.5" y1="946.3" x2="963.5" y2="1060.7" stroke="#f0f0f0" stroke-width="0.8" />
<line x1="996.3" y1="946.3" x2="996.3" y2="1060.7" stroke="#f0f0f0" stroke-width="0.8" />
<line x1="1029.2" y1="946.3" x2="1029.2" y2="1060.7" stroke="#f0f0f0" stroke-width="0.8" />
<line x1="1062.0" y1="946.3" x2="1062.0" y2="1060.7" stroke="#f0f0f0" stroke-width="0.8" />
<line x1="1094.9" y1="946.3" x2="1094.9" y2="1060.7" stroke="#f0f0f0" stroke-width="0.8" />
<line x1="864.2" y1="954.3" x2="1120.6" y2="954.3" stroke="#f0f0f0" stroke-width="0.8" />
<line x1="864.2" y1="966.4" x2="1120.6" y2="966.4" stroke="#f0f0f0" stroke-width="0.8" />
<line x1="864.2" y1="978.5" x2="1120.6" y2="978.5" stroke="#f0f0f0" stroke-width="0.8" />
<line x1="864.2" y1="990.6" x2="1120.6" y2="990.6" stroke="#f0f0f0" stroke-width="0.8" />
<line x1="864.2" y1="1002.7" x2="1120.6" y2="1002.7" stroke="#f0f0f0" stroke-width="0.8" />
<line x1="864.2" y1="1014.8" x2="1120.6" y2="1014.8" stroke="#f0f0f0" stroke-width="0.8" />
<line x1="864.2" y1="1026.9" x2="1120.6" y2="1026.9" stroke="#f0f0f0" stroke-width="0.8" />
<line x1="864.2" y1="1039.0" x2="1120.6" y2="1039.0" stroke="#f0f0f0" stroke-width="0.8" />
<line x1="864.2" y1="1051.1" x2="1120.6" y2="1051.1" stroke="#f0f0f0" stroke-width="0.8" />
<line x1="864.2" y1="990.6" x2="1120.6" y2="990.6" stroke="#bdbdbd" stroke-width="1.1" />
<line x1="864.2" y1="1060.7" x2="1120.6" y2="1060.7" stroke="#cfcfcf" stroke-width="1.1" />
<line x1="869.2" y1="1061.3" x2="869.2" y2="1091.8" stroke="#1e1e1e" stroke-width="1.8" />
<line x1="870.6" y1="1061.3" x2="870.6" y2="1091.8" stroke="#3c3c3c" stroke-width="0.9" />
<line x1="873.3" y1="1061.3" x2="873.3" y2="1091.8" stroke="#828282" stroke-width="1.08" />
<line x1="886.4" y1="1061.3" x2="886.4" y2="1091.8" stroke="#505050" stroke-width="0.9" />
<line x1="889.9" y1="1061.3" x2="889.9" y2="1091.8" stroke="#282828" stroke-width="1.35" />
<line x1="891.4" y1="1061.3" x2="891.4" y2="1091.8" stroke="#505050" stroke-width="0.9" />
<line x1="895.1" y1="1061.3" x2="895.1" y2="1091.8" stroke="#282828" stroke-width="1.35" />
<line x1="896.5" y1="1061.3" x2="896.5" y2="1091.8" stroke="#505050" stroke-width="0.9" />
<line x1="898.2" y1="1061.3" x2="898.2" y2="1091.8" stroke="#505050" stroke-width="0.9" />
<line x1="900.3" y1="1061.3" x2="900.3" y2="1091.8" stroke="#505050" stroke-width="0.9" />
<line x1="904.4" y1="1061.3" x2="904.4" y2="1091.8" stroke="#505050" stroke-width="0.9" />
<line x1="916.5" y1="1061.3" x2="916.5" y2="1091.8" stroke="#505050" stroke-width="0.9" />
<line x1="920.0" y1="1061.3" x2="920.0" y2="1091.8" stroke="#8c8c8c" stroke-width="1.08" />
<line x1="924.1" y1="1061.3" x2="924.1" y2="1091.8" stroke="#3c3c3c" stroke-width="1.8" />
<line x1="925.8" y1="1061.3" x2="925.8" y2="1091.8" stroke="#8c8c8c" stroke-width="1.08" />
<line x1="936.6" y1="1061.3" x2="936.6" y2="1091.8" stroke="#505050" stroke-width="0.9" />
<line x1="940.1" y1="1061.3" x2="940.1" y2="1091.8" stroke="#828282" stroke-width="1.08" />
<line x1="993.0" y1="1061.3" x2="993.0" y2="1091.8" stroke="#969696" stroke-width="1.35" />
<line x1="999.8" y1="1061.3" x2="999.8" y2="1091.8" stroke="#bebebe" stroke-width="1.08" />
<line x1="1017.5" y1="1061.3" x2="1017.5" y2="1091.8" stroke="#505050" stroke-width="0.9" />
<line x1="1027.8" y1="1061.3" x2="1027.8" y2="1091.8" stroke="#3c3c3c" stroke-width="1.35" />
<line x1="1029.3" y1="1061.3" x2="1029.3" y2="1091.8" stroke="#8c8c8c" stroke-width="1.08" />
<line x1="1068.7" y1="1061.3" x2="1068.7" y2="1091.8" stroke="#464646" stroke-width="0.9" />
<line x1="1070.3" y1="1061.3" x2="1070.3" y2="1091.8" stroke="#464646" stroke-width="0.9" />
<line x1="1072.4" y1="1061.3" x2="1072.4" y2="1091.8" stroke="#8c8c8c" stroke-width="1.35" />
<line x1="1074.5" y1="1061.3" x2="1074.5" y2="1091.8" stroke="#505050" stroke-width="0.9" />
<line x1="1077.6" y1="1061.3" x2="1077.6" y2="1091.8" stroke="#3c3c3c" stroke-width="0.9" />
<line x1="1078.6" y1="1061.3" x2="1078.6" y2="1091.8" stroke="#3c3c3c" stroke-width="0.9" />
<line x1="1079.7" y1="1061.3" x2="1079.7" y2="1091.8" stroke="#3c3c3c" stroke-width="0.9" />
<line x1="1081.1" y1="1061.3" x2="1081.1" y2="1091.8" stroke="#282828" stroke-width="1.35" />
<line x1="1099.4" y1="1061.3" x2="1099.4" y2="1091.8" stroke="#505050" stroke-width="0.9" />
<line x1="1103.5" y1="1061.3" x2="1103.5" y2="1091.8" stroke="#8c8c8c" stroke-width="1.35" />
<line x1="1105.0" y1="1061.3" x2="1105.0" y2="1091.8" stroke="#505050" stroke-width="0.9" />
<line x1="1106.6" y1="1061.3" x2="1106.6" y2="1091.8" stroke="#505050" stroke-width="0.9" />
<line x1="1107.7" y1="1061.3" x2="1107.7" y2="1091.8" stroke="#505050" stroke-width="0.9" />
<polyline points="866.7,990.6 869.2,992.6 869.6,983.5 870.6,974.6 871.2,966.3 872.7,967.3 873.7,960.1 875.4,960.7 886.8,969.0 888.3,965.3 889.9,966.3 892.0,961.1 894.1,962.8 896.1,957.4 898.2,958.6 899.9,953.2 902.4,952.4 904.0,954.5 905.5,952.8 915.8,960.7 921.0,961.1 923.1,962.8 926.2,961.7 935.5,968.4 941.8,971.5 1027.8,1029.5 1030.9,1029.5 1067.8,1055.5 1069.3,1052.4 1071.4,1050.9 1072.4,1049.2 1074.5,1046.1 1075.5,1044.1 1077.0,1043.0 1078.6,1039.9 1079.7,1036.8 1081.1,1027.9 1082.8,1028.5 1099.4,1040.9 1100.4,1032.0 1103.5,1034.7 1104.1,1025.0 1105.6,1024.4 1105.8,1003.6 1107.7,1002.6 1108.1,990.1" fill="none" stroke="#00f400" stroke-width="2.4" stroke-linejoin="round"/>
<rect x="864.2" y="946.3" width="256.4" height="145.5" fill="none" stroke="#000" stroke-width="2.8"/>
<line x1="857.8" y1="956.5" x2="863.0" y2="956.5" stroke="#333" stroke-width="1.6" />
<text x="854.4" y="963.6" font-size="20.1" text-anchor="end">0.2</text>
<line x1="857.8" y1="1056.5" x2="863.0" y2="1056.5" stroke="#333" stroke-width="1.6" />
<text x="854.4" y="1063.6" font-size="20.1" text-anchor="end">–0.4</text>
<text x="841.0" y="1014.0" font-size="20.1" text-anchor="middle">ES</text>
<text x="992.5" y="1118.9" font-size="25.2" text-anchor="middle">FDR <tspan font-style="italic">q</tspan>-value = 1</text>
<polygon points="812.0,1168.5 822.5,1156.3 864.2,1142.8 864.2,1295.9 823.5,1259.8 812.0,1172.9" fill="url(#fan)" stroke="none" stroke-width="0" />
<rect x="785.4" y="1168.5" width="27.6" height="4.4" fill="url(#conn)" />
<rect x="864.2" y="1148.8" width="256.4" height="145.6" fill="#fff" />
<line x1="897.8" y1="1148.8" x2="897.8" y2="1263.6" stroke="#f0f0f0" stroke-width="0.8" />
<line x1="930.6" y1="1148.8" x2="930.6" y2="1263.6" stroke="#f0f0f0" stroke-width="0.8" />
<line x1="963.5" y1="1148.8" x2="963.5" y2="1263.6" stroke="#f0f0f0" stroke-width="0.8" />
<line x1="996.3" y1="1148.8" x2="996.3" y2="1263.6" stroke="#f0f0f0" stroke-width="0.8" />
<line x1="1029.2" y1="1148.8" x2="1029.2" y2="1263.6" stroke="#f0f0f0" stroke-width="0.8" />
<line x1="1062.0" y1="1148.8" x2="1062.0" y2="1263.6" stroke="#f0f0f0" stroke-width="0.8" />
<line x1="1094.9" y1="1148.8" x2="1094.9" y2="1263.6" stroke="#f0f0f0" stroke-width="0.8" />
<line x1="864.2" y1="1157.0" x2="1120.6" y2="1157.0" stroke="#f0f0f0" stroke-width="0.8" />
<line x1="864.2" y1="1169.1" x2="1120.6" y2="1169.1" stroke="#f0f0f0" stroke-width="0.8" />
<line x1="864.2" y1="1181.2" x2="1120.6" y2="1181.2" stroke="#f0f0f0" stroke-width="0.8" />
<line x1="864.2" y1="1193.3" x2="1120.6" y2="1193.3" stroke="#f0f0f0" stroke-width="0.8" />
<line x1="864.2" y1="1205.4" x2="1120.6" y2="1205.4" stroke="#f0f0f0" stroke-width="0.8" />
<line x1="864.2" y1="1217.5" x2="1120.6" y2="1217.5" stroke="#f0f0f0" stroke-width="0.8" />
<line x1="864.2" y1="1229.6" x2="1120.6" y2="1229.6" stroke="#f0f0f0" stroke-width="0.8" />
<line x1="864.2" y1="1241.7" x2="1120.6" y2="1241.7" stroke="#f0f0f0" stroke-width="0.8" />
<line x1="864.2" y1="1253.8" x2="1120.6" y2="1253.8" stroke="#f0f0f0" stroke-width="0.8" />
<line x1="864.2" y1="1181.2" x2="1120.6" y2="1181.2" stroke="#bdbdbd" stroke-width="1.1" />
<line x1="864.2" y1="1263.6" x2="1120.6" y2="1263.6" stroke="#cfcfcf" stroke-width="1.1" />
<line x1="867.3" y1="1264.2" x2="867.3" y2="1294.4" stroke="#969696" stroke-width="2.7" />
<line x1="881.2" y1="1264.2" x2="881.2" y2="1294.4" stroke="#505050" stroke-width="0.9" />
<line x1="882.7" y1="1264.2" x2="882.7" y2="1294.4" stroke="#282828" stroke-width="1.35" />
<line x1="887.4" y1="1264.2" x2="887.4" y2="1294.4" stroke="#505050" stroke-width="0.9" />
<line x1="896.5" y1="1264.2" x2="896.5" y2="1294.4" stroke="#505050" stroke-width="0.9" />
<line x1="908.6" y1="1264.2" x2="908.6" y2="1294.4" stroke="#505050" stroke-width="0.9" />
<line x1="910.2" y1="1264.2" x2="910.2" y2="1294.4" stroke="#505050" stroke-width="0.9" />
<line x1="912.1" y1="1264.2" x2="912.1" y2="1294.4" stroke="#8c8c8c" stroke-width="1.08" />
<line x1="922.7" y1="1264.2" x2="922.7" y2="1294.4" stroke="#282828" stroke-width="1.35" />
<line x1="925.8" y1="1264.2" x2="925.8" y2="1294.4" stroke="#828282" stroke-width="1.08" />
<line x1="945.5" y1="1264.2" x2="945.5" y2="1294.4" stroke="#505050" stroke-width="0.9" />
<line x1="1004.4" y1="1264.2" x2="1004.4" y2="1294.4" stroke="#282828" stroke-width="1.35" />
<line x1="1009.6" y1="1264.2" x2="1009.6" y2="1294.4" stroke="#8c8c8c" stroke-width="1.08" />
<line x1="1026.8" y1="1264.2" x2="1026.8" y2="1294.4" stroke="#3c3c3c" stroke-width="0.9" />
<line x1="1028.4" y1="1264.2" x2="1028.4" y2="1294.4" stroke="#282828" stroke-width="1.35" />
<line x1="1029.5" y1="1264.2" x2="1029.5" y2="1294.4" stroke="#505050" stroke-width="0.9" />
<line x1="1038.6" y1="1264.2" x2="1038.6" y2="1294.4" stroke="#505050" stroke-width="0.9" />
<line x1="1046.1" y1="1264.2" x2="1046.1" y2="1294.4" stroke="#969696" stroke-width="1.08" />
<line x1="1055.4" y1="1264.2" x2="1055.4" y2="1294.4" stroke="#505050" stroke-width="0.9" />
<line x1="1057.9" y1="1264.2" x2="1057.9" y2="1294.4" stroke="#8c8c8c" stroke-width="1.08" />
<line x1="1059.3" y1="1264.2" x2="1059.3" y2="1294.4" stroke="#505050" stroke-width="0.9" />
<line x1="1063.1" y1="1264.2" x2="1063.1" y2="1294.4" stroke="#505050" stroke-width="0.9" />
<line x1="1065.2" y1="1264.2" x2="1065.2" y2="1294.4" stroke="#8c8c8c" stroke-width="1.08" />
<line x1="1068.3" y1="1264.2" x2="1068.3" y2="1294.4" stroke="#505050" stroke-width="0.9" />
<line x1="1081.7" y1="1264.2" x2="1081.7" y2="1294.4" stroke="#505050" stroke-width="0.9" />
<line x1="1083.2" y1="1264.2" x2="1083.2" y2="1294.4" stroke="#8c8c8c" stroke-width="1.08" />
<line x1="1084.4" y1="1264.2" x2="1084.4" y2="1294.4" stroke="#505050" stroke-width="0.9" />
<line x1="1088.0" y1="1264.2" x2="1088.0" y2="1294.4" stroke="#505050" stroke-width="0.9" />
<line x1="1089.4" y1="1264.2" x2="1089.4" y2="1294.4" stroke="#8c8c8c" stroke-width="1.08" />
<line x1="1091.1" y1="1264.2" x2="1091.1" y2="1294.4" stroke="#505050" stroke-width="0.9" />
<line x1="1093.1" y1="1264.2" x2="1093.1" y2="1294.4" stroke="#505050" stroke-width="0.9" />
<line x1="1094.6" y1="1264.2" x2="1094.6" y2="1294.4" stroke="#505050" stroke-width="0.9" />
<line x1="1095.8" y1="1264.2" x2="1095.8" y2="1294.4" stroke="#3c3c3c" stroke-width="0.9" />
<line x1="1097.3" y1="1264.2" x2="1097.3" y2="1294.4" stroke="#282828" stroke-width="1.35" />
<line x1="1102.5" y1="1264.2" x2="1102.5" y2="1294.4" stroke="#8c8c8c" stroke-width="1.35" />
<line x1="1103.9" y1="1264.2" x2="1103.9" y2="1294.4" stroke="#505050" stroke-width="0.9" />
<line x1="1107.3" y1="1264.2" x2="1107.3" y2="1294.4" stroke="#505050" stroke-width="0.9" />
<polyline points="866.1,1181.7 866.3,1167.1 867.7,1166.1 868.1,1155.1 869.6,1155.7 881.2,1165.7 882.7,1161.5 883.7,1155.1 885.8,1156.8 887.4,1154.7 896.1,1160.9 897.8,1159.5 908.2,1167.8 912.7,1167.8 921.0,1174.4 923.1,1174.0 928.3,1177.5 1004.0,1234.5 1008.1,1236.6 1010.2,1236.2 1024.7,1248.6 1027.8,1248.0 1029.5,1244.5 1038.2,1251.1 1039.2,1248.6 1045.5,1253.6 1046.5,1250.7 1055.8,1258.4 1057.5,1254.2 1058.9,1256.3 1060.4,1252.8 1062.0,1254.9 1063.5,1251.1 1065.2,1252.2 1066.2,1248.6 1067.2,1249.1 1068.7,1245.5 1081.7,1255.7 1082.8,1249.1 1084.9,1248.0 1085.3,1244.5 1088.0,1247.0 1088.6,1241.8 1090.0,1242.4 1091.1,1236.6 1091.7,1229.4 1094.2,1231.4 1094.8,1223.8 1096.3,1223.1 1096.7,1216.3 1098.3,1208.6 1102.5,1212.8 1103.1,1202.4 1103.9,1201.8 1104.1,1193.1 1106.6,1195.1 1107.3,1181.0 1108.7,1181.0" fill="none" stroke="#00f400" stroke-width="2.4" stroke-linejoin="round"/>
<rect x="864.2" y="1148.8" width="256.4" height="145.6" fill="none" stroke="#000" stroke-width="2.8"/>
<line x1="857.8" y1="1163.0" x2="863.0" y2="1163.0" stroke="#333" stroke-width="1.6" />
<text x="849.6" y="1170.1" font-size="20.1" text-anchor="end">0.1</text>
<line x1="857.8" y1="1253.6" x2="863.0" y2="1253.6" stroke="#333" stroke-width="1.6" />
<text x="849.6" y="1260.7" font-size="20.1" text-anchor="end">–0.4</text>
<text x="836.2" y="1214.0" font-size="20.1" text-anchor="middle">ES</text>
<text x="993.0" y="1317.9" font-size="25.2" text-anchor="middle">FDR <tspan font-style="italic">q</tspan>-value = 0.5</text>
</g>
<g id="panel-b">
<text x="1201.5" y="162.7" font-size="42.5" font-weight="bold">b</text>
<text x="1432.8" y="196.6" font-size="24.5" text-anchor="middle" font-style="italic">SOX8</text>
<text x="1523.3" y="196.6" font-size="24.5" text-anchor="middle" font-style="italic">MYOD1</text>
<text x="1614.0" y="196.6" font-size="24.5" text-anchor="middle" font-style="italic">MYOG</text>
<text x="1694.9" y="196.6" font-size="24.5" text-anchor="middle" font-style="italic">ID3</text>
<text x="1789.6" y="196.6" font-size="24.5" text-anchor="middle" font-style="italic">JUN</text>
<rect x="1401.9" y="212.9" width="2.5" height="10.6" fill="#0707b2" />
<rect x="1403.3" y="209.6" width="6.0" height="17.2" fill="#0707b2" />
<line x1="1409.2" y1="218.2" x2="1438.5" y2="218.2" stroke="#0707b2" stroke-width="1.2" />
<line x1="1428.2" y1="209.6" x2="1428.2" y2="226.8" stroke="#0707b2" stroke-width="1.3" />
<polyline points="1421.2,215.0 1425.2,218.2 1421.2,221.4" fill="none" stroke="#0707b2" stroke-width="1" />
<rect x="1438.5" y="209.6" width="8.6" height="17.2" fill="#0707b2" />
<rect x="1446.7" y="212.9" width="20.1" height="10.6" fill="#0707b2" />
<rect x="1493.6" y="212.9" width="5.8" height="10.6" fill="#0707b2" />
<rect x="1498.7" y="209.6" width="11.6" height="17.2" fill="#0707b2" />
<line x1="1510.3" y1="218.2" x2="1527.9" y2="218.2" stroke="#0707b2" stroke-width="1.2" />
<line x1="1522.3" y1="209.6" x2="1522.3" y2="226.8" stroke="#0707b2" stroke-width="1.3" />
<rect x="1527.9" y="209.6" width="8.3" height="17.2" fill="#0707b2" />
<rect x="1535.8" y="212.9" width="10.1" height="10.6" fill="#0707b2" />
<rect x="1579.0" y="212.9" width="17.4" height="10.6" fill="#0707b2" />
<rect x="1595.0" y="209.6" width="2.3" height="17.2" fill="#0707b2" />
<line x1="1597.4" y1="218.2" x2="1626.3" y2="218.2" stroke="#0707b2" stroke-width="1.2" />
<line x1="1611.0" y1="209.6" x2="1611.0" y2="226.8" stroke="#0707b2" stroke-width="1.3" />
<rect x="1626.3" y="209.6" width="9.6" height="17.2" fill="#0707b2" />
<rect x="1635.5" y="212.9" width="1.8" height="10.6" fill="#0707b2" />
<rect x="1667.1" y="212.9" width="15.1" height="10.6" fill="#0707b2" />
<line x1="1681.8" y1="218.2" x2="1701.7" y2="218.2" stroke="#0707b2" stroke-width="1.2" />
<line x1="1698.4" y1="209.6" x2="1698.4" y2="226.8" stroke="#0707b2" stroke-width="1.3" />
<rect x="1701.7" y="209.6" width="9.0" height="17.2" fill="#0707b2" />
<rect x="1710.3" y="212.9" width="12.4" height="10.6" fill="#0707b2" />
<rect x="1764.2" y="212.9" width="19.1" height="10.6" fill="#0707b2" />
<rect x="1782.8" y="209.6" width="13.6" height="17.2" fill="#0707b2" />
<rect x="1796.1" y="212.9" width="15.4" height="10.6" fill="#0707b2" />
<line x1="1395.6" y1="310.0" x2="1473.1" y2="310.0" stroke="#c6c6c6" stroke-width="2.6" />
<line x1="1483.0" y1="310.0" x2="1561.1" y2="310.0" stroke="#c6c6c6" stroke-width="2.6" />
<line x1="1570.4" y1="310.0" x2="1648.6" y2="310.0" stroke="#c6c6c6" stroke-width="2.6" />
<line x1="1657.9" y1="310.0" x2="1736.3" y2="310.0" stroke="#c6c6c6" stroke-width="2.6" />
<line x1="1745.6" y1="310.0" x2="1824.4" y2="310.0" stroke="#c6c6c6" stroke-width="2.6" />
<rect x="1402.3" y="258.4" width="8.3" height="50.0" fill="#696969" />
<rect x="1426.2" y="237.8" width="4.3" height="70.6" fill="#696969" />
<rect x="1438.5" y="236.4" width="28.9" height="72.0" fill="#696969" />
<rect x="1493.0" y="242.8" width="19.0" height="65.6" fill="#696969" />
<rect x="1519.9" y="248.7" width="3.0" height="59.7" fill="#696969" />
<rect x="1527.2" y="236.4" width="19.7" height="72.0" fill="#696969" />
<rect x="1578.8" y="240.1" width="19.6" height="68.3" fill="#696969" />
<rect x="1608.7" y="250.1" width="3.3" height="58.3" fill="#696969" />
<rect x="1626.3" y="241.4" width="12.6" height="67.0" fill="#696969" />
<rect x="1667.5" y="240.1" width="15.6" height="68.3" fill="#696969" />
<rect x="1696.4" y="241.4" width="4.3" height="67.0" fill="#696969" />
<rect x="1701.4" y="245.1" width="20.9" height="63.3" fill="#696969" />
<rect x="1764.6" y="246.4" width="48.5" height="62.0" fill="#696969" />
<text x="1382.6" y="269.2" font-size="24.9" text-anchor="end">DMSO</text>
<text x="1826.5" y="249.5" font-size="20.3">8</text>
<text x="1824.4" y="281.3" font-size="24.5">log<tspan dy="7.1" font-size="16.2">2</tspan><tspan dy="-7.1">(TPM)</tspan></text>
<text x="1830.2" y="331.8" font-size="20.5">+3</text>
<text x="1830.4" y="367.7" font-size="24.5">Δlog<tspan dy="7.1" font-size="16.2">2</tspan><tspan dy="-7.1">(TPM)</tspan></text>
<text x="1832.2" y="403.3" font-size="20.5">–3</text>
<rect x="1396.7" y="317.3" width="75.3" height="963.5" fill="#fff" stroke="#000" stroke-width="2.3"/>
<rect x="1484.1" y="317.3" width="75.9" height="963.5" fill="#fff" stroke="#000" stroke-width="2.3"/>
<rect x="1571.5" y="317.3" width="76.0" height="963.5" fill="#fff" stroke="#000" stroke-width="2.3"/>
<rect x="1659.0" y="317.3" width="76.2" height="963.5" fill="#fff" stroke="#000" stroke-width="2.3"/>
<rect x="1746.7" y="317.3" width="76.6" height="963.5" fill="#fff" stroke="#000" stroke-width="2.3"/>
<text x="1385.0" y="367.9" font-size="24.8" text-anchor="end">LAQ824</text>
<line x1="1397.8" y1="363.8" x2="1470.9" y2="363.8" stroke="#c2c2c2" stroke-width="2.2" />
<line x1="1485.2" y1="363.8" x2="1558.9" y2="363.8" stroke="#c2c2c2" stroke-width="2.2" />
<line x1="1572.6" y1="363.8" x2="1646.4" y2="363.8" stroke="#c2c2c2" stroke-width="2.2" />
<line x1="1660.1" y1="363.8" x2="1734.1" y2="363.8" stroke="#c2c2c2" stroke-width="2.2" />
<line x1="1747.8" y1="363.8" x2="1822.2" y2="363.8" stroke="#c2c2c2" stroke-width="2.2" />
<rect x="1402.3" y="364.9" width="8.3" height="17.5" fill="#0a0aff" />
<rect x="1426.2" y="364.9" width="4.3" height="20.6" fill="#0a0aff" />
<rect x="1438.5" y="364.9" width="28.9" height="23.3" fill="#0a0aff" />
<rect x="1493.0" y="364.9" width="19.0" height="41.6" fill="#0a0aff" />
<rect x="1519.9" y="364.9" width="3.0" height="41.6" fill="#0a0aff" />
<rect x="1527.2" y="364.9" width="19.7" height="41.6" fill="#0a0aff" />
<rect x="1578.8" y="364.9" width="19.6" height="41.6" fill="#0a0aff" />
<rect x="1608.7" y="364.9" width="3.3" height="41.6" fill="#0a0aff" />
<rect x="1626.3" y="364.9" width="12.6" height="41.6" fill="#0a0aff" />
<rect x="1667.5" y="364.9" width="15.6" height="31.8" fill="#0a0aff" />
<rect x="1696.4" y="364.9" width="4.3" height="29.5" fill="#0a0aff" />
<rect x="1701.4" y="364.9" width="20.9" height="20.6" fill="#0a0aff" />
<rect x="1764.6" y="364.9" width="48.5" height="21.9" fill="#0a0aff" />
<text x="1385.0" y="463.3" font-size="24.8" text-anchor="end">N1302</text>
<line x1="1397.8" y1="459.2" x2="1470.9" y2="459.2" stroke="#c2c2c2" stroke-width="2.2" />
<line x1="1485.2" y1="459.2" x2="1558.9" y2="459.2" stroke="#c2c2c2" stroke-width="2.2" />
<line x1="1572.6" y1="459.2" x2="1646.4" y2="459.2" stroke="#c2c2c2" stroke-width="2.2" />
<line x1="1660.1" y1="459.2" x2="1734.1" y2="459.2" stroke="#c2c2c2" stroke-width="2.2" />
<line x1="1747.8" y1="459.2" x2="1822.2" y2="459.2" stroke="#c2c2c2" stroke-width="2.2" />
<rect x="1402.3" y="444.7" width="8.3" height="13.4" fill="#cc1166" />
<rect x="1426.2" y="460.3" width="4.3" height="8.5" fill="#0a0aff" />
<rect x="1438.5" y="460.3" width="28.9" height="15.7" fill="#0a0aff" />
<rect x="1493.0" y="460.3" width="19.0" height="36.7" fill="#0a0aff" />
<rect x="1519.9" y="460.3" width="3.0" height="18.4" fill="#0a0aff" />
<rect x="1527.2" y="460.3" width="19.7" height="38.9" fill="#0a0aff" />
<rect x="1578.8" y="460.3" width="19.6" height="41.2" fill="#0a0aff" />
<rect x="1608.7" y="460.3" width="3.3" height="41.2" fill="#0a0aff" />
<rect x="1626.3" y="460.3" width="12.6" height="41.2" fill="#0a0aff" />
<rect x="1667.5" y="460.3" width="15.6" height="12.1" fill="#0a0aff" />
<rect x="1696.4" y="460.3" width="4.3" height="4.5" fill="#0a0aff" />
<rect x="1701.4" y="460.3" width="20.9" height="2.0" fill="#0a0aff" />
<rect x="1764.6" y="460.3" width="48.5" height="13.4" fill="#0a0aff" />
<text x="1385.0" y="558.6" font-size="24.8" text-anchor="end">SGCCBP30</text>
<line x1="1397.8" y1="554.5" x2="1470.9" y2="554.5" stroke="#c2c2c2" stroke-width="2.2" />
<line x1="1485.2" y1="554.5" x2="1558.9" y2="554.5" stroke="#c2c2c2" stroke-width="2.2" />
<line x1="1572.6" y1="554.5" x2="1646.4" y2="554.5" stroke="#c2c2c2" stroke-width="2.2" />
<line x1="1660.1" y1="554.5" x2="1734.1" y2="554.5" stroke="#c2c2c2" stroke-width="2.2" />
<line x1="1747.8" y1="554.5" x2="1822.2" y2="554.5" stroke="#c2c2c2" stroke-width="2.2" />
<rect x="1402.3" y="555.6" width="8.3" height="14.3" fill="#0a0aff" />
<rect x="1426.2" y="555.6" width="4.3" height="19.2" fill="#0a0aff" />
<rect x="1438.5" y="555.6" width="28.9" height="17.0" fill="#0a0aff" />
<rect x="1493.0" y="555.6" width="19.0" height="19.2" fill="#0a0aff" />
<rect x="1519.9" y="555.6" width="3.0" height="21.9" fill="#0a0aff" />
<rect x="1527.2" y="555.6" width="19.7" height="20.6" fill="#0a0aff" />
<rect x="1578.8" y="555.6" width="19.6" height="27.8" fill="#0a0aff" />
<rect x="1608.7" y="555.6" width="3.3" height="32.7" fill="#0a0aff" />
<rect x="1626.3" y="555.6" width="12.6" height="29.1" fill="#0a0aff" />
<rect x="1667.5" y="555.6" width="15.6" height="3.1" fill="#0a0aff" />
<rect x="1696.4" y="555.6" width="4.3" height="2.2" fill="#0a0aff" />
<rect x="1701.4" y="555.6" width="20.9" height="1.0" fill="#7a7aff" />
<rect x="1764.6" y="555.6" width="48.5" height="17.0" fill="#0a0aff" />
<text x="1385.0" y="654.0" font-size="24.8" text-anchor="end">JQ1</text>
<line x1="1397.8" y1="649.9" x2="1470.9" y2="649.9" stroke="#c2c2c2" stroke-width="2.2" />
<line x1="1485.2" y1="649.9" x2="1558.9" y2="649.9" stroke="#c2c2c2" stroke-width="2.2" />
<line x1="1572.6" y1="649.9" x2="1646.4" y2="649.9" stroke="#c2c2c2" stroke-width="2.2" />
<line x1="1660.1" y1="649.9" x2="1734.1" y2="649.9" stroke="#c2c2c2" stroke-width="2.2" />
<line x1="1747.8" y1="649.9" x2="1822.2" y2="649.9" stroke="#c2c2c2" stroke-width="2.2" />
<rect x="1402.3" y="651.0" width="8.3" height="14.8" fill="#0a0aff" />
<rect x="1426.2" y="651.0" width="4.3" height="10.7" fill="#0a0aff" />
<rect x="1438.5" y="651.0" width="28.9" height="10.7" fill="#0a0aff" />
<rect x="1493.0" y="651.0" width="19.0" height="19.7" fill="#0a0aff" />
<rect x="1519.9" y="651.0" width="3.0" height="21.9" fill="#0a0aff" />
<rect x="1527.2" y="651.0" width="19.7" height="16.1" fill="#0a0aff" />
<rect x="1578.8" y="651.0" width="19.6" height="36.7" fill="#0a0aff" />
<rect x="1608.7" y="651.0" width="3.3" height="36.7" fill="#0a0aff" />
<rect x="1626.3" y="651.0" width="12.6" height="40.3" fill="#0a0aff" />
<rect x="1764.6" y="651.0" width="48.5" height="9.8" fill="#0a0aff" />
<text x="1385.0" y="749.4" font-size="24.8" text-anchor="end">JQEZ005</text>
<line x1="1397.8" y1="745.3" x2="1470.9" y2="745.3" stroke="#c2c2c2" stroke-width="2.2" />
<line x1="1485.2" y1="745.3" x2="1558.9" y2="745.3" stroke="#c2c2c2" stroke-width="2.2" />
<line x1="1572.6" y1="745.3" x2="1646.4" y2="745.3" stroke="#c2c2c2" stroke-width="2.2" />
<line x1="1660.1" y1="745.3" x2="1734.1" y2="745.3" stroke="#c2c2c2" stroke-width="2.2" />
<line x1="1747.8" y1="745.3" x2="1822.2" y2="745.3" stroke="#c2c2c2" stroke-width="2.2" />
<rect x="1426.2" y="746.4" width="4.3" height="6.7" fill="#0a0aff" />
<rect x="1519.9" y="746.4" width="3.0" height="6.7" fill="#0a0aff" />
<rect x="1578.8" y="743.2" width="19.6" height="1.0" fill="#e080a8" />
<rect x="1608.7" y="746.4" width="3.3" height="2.2" fill="#0a0aff" />
<rect x="1696.4" y="746.4" width="4.3" height="2.0" fill="#0a0aff" />
<rect x="1701.4" y="746.4" width="20.9" height="6.7" fill="#0a0aff" />
<text x="1385.0" y="844.8" font-size="24.8" text-anchor="end">UNC0638</text>
<line x1="1397.8" y1="840.7" x2="1470.9" y2="840.7" stroke="#c2c2c2" stroke-width="2.2" />
<line x1="1485.2" y1="840.7" x2="1558.9" y2="840.7" stroke="#c2c2c2" stroke-width="2.2" />
<line x1="1572.6" y1="840.7" x2="1646.4" y2="840.7" stroke="#c2c2c2" stroke-width="2.2" />
<line x1="1660.1" y1="840.7" x2="1734.1" y2="840.7" stroke="#c2c2c2" stroke-width="2.2" />
<line x1="1747.8" y1="840.7" x2="1822.2" y2="840.7" stroke="#c2c2c2" stroke-width="2.2" />
<rect x="1402.3" y="841.8" width="8.3" height="12.1" fill="#0a0aff" />
<rect x="1426.2" y="841.8" width="4.3" height="12.1" fill="#0a0aff" />
<rect x="1438.5" y="841.8" width="28.9" height="8.5" fill="#0a0aff" />
<rect x="1493.0" y="841.8" width="19.0" height="26.9" fill="#0a0aff" />
<rect x="1519.9" y="841.8" width="3.0" height="20.6" fill="#0a0aff" />
<rect x="1527.2" y="841.8" width="19.7" height="20.6" fill="#0a0aff" />
<rect x="1578.8" y="841.8" width="19.6" height="5.8" fill="#0a0aff" />
<rect x="1608.7" y="841.8" width="3.3" height="8.5" fill="#0a0aff" />
<rect x="1626.3" y="841.8" width="12.6" height="10.7" fill="#0a0aff" />
<rect x="1667.5" y="834.7" width="15.6" height="4.9" fill="#cc1166" />
<rect x="1696.4" y="834.7" width="4.3" height="4.9" fill="#cc1166" />
<rect x="1701.4" y="836.9" width="20.9" height="2.7" fill="#cc1166" />
<rect x="1764.6" y="831.1" width="48.5" height="8.5" fill="#cc1166" />
<text x="1385.0" y="940.1" font-size="24.8" text-anchor="end">LSD690</text>
<line x1="1397.8" y1="936.0" x2="1470.9" y2="936.0" stroke="#c2c2c2" stroke-width="2.2" />
<line x1="1485.2" y1="936.0" x2="1558.9" y2="936.0" stroke="#c2c2c2" stroke-width="2.2" />
<line x1="1572.6" y1="936.0" x2="1646.4" y2="936.0" stroke="#c2c2c2" stroke-width="2.2" />
<line x1="1660.1" y1="936.0" x2="1734.1" y2="936.0" stroke="#c2c2c2" stroke-width="2.2" />
<line x1="1747.8" y1="936.0" x2="1822.2" y2="936.0" stroke="#c2c2c2" stroke-width="2.2" />
<rect x="1402.3" y="937.1" width="8.3" height="0.8" fill="#7a7aff" />
<rect x="1426.2" y="937.1" width="4.3" height="6.3" fill="#0a0aff" />
<rect x="1493.0" y="937.1" width="19.0" height="7.6" fill="#0a0aff" />
<rect x="1519.9" y="937.1" width="3.0" height="2.2" fill="#0a0aff" />
<rect x="1527.2" y="937.1" width="19.7" height="7.6" fill="#0a0aff" />
<rect x="1578.8" y="929.5" width="19.6" height="5.4" fill="#cc1166" />
<rect x="1608.7" y="930.9" width="3.3" height="4.0" fill="#cc1166" />
<rect x="1667.5" y="937.1" width="15.6" height="6.3" fill="#0a0aff" />
<rect x="1696.4" y="937.1" width="4.3" height="9.0" fill="#0a0aff" />
<rect x="1701.4" y="937.1" width="20.9" height="9.8" fill="#0a0aff" />
<rect x="1764.6" y="937.1" width="48.5" height="6.3" fill="#0a0aff" />
<text x="1385.0" y="1035.5" font-size="24.8" text-anchor="end">LSD519</text>
<line x1="1397.8" y1="1031.4" x2="1470.9" y2="1031.4" stroke="#c2c2c2" stroke-width="2.2" />
<line x1="1485.2" y1="1031.4" x2="1558.9" y2="1031.4" stroke="#c2c2c2" stroke-width="2.2" />
<line x1="1572.6" y1="1031.4" x2="1646.4" y2="1031.4" stroke="#c2c2c2" stroke-width="2.2" />
<line x1="1660.1" y1="1031.4" x2="1734.1" y2="1031.4" stroke="#c2c2c2" stroke-width="2.2" />
<line x1="1747.8" y1="1031.4" x2="1822.2" y2="1031.4" stroke="#c2c2c2" stroke-width="2.2" />
<rect x="1426.2" y="1032.5" width="4.3" height="0.8" fill="#7a7aff" />
<rect x="1493.0" y="1032.5" width="19.0" height="2.2" fill="#0a0aff" />
<rect x="1519.9" y="1032.5" width="3.0" height="0.8" fill="#7a7aff" />
<rect x="1527.2" y="1032.5" width="19.7" height="3.1" fill="#0a0aff" />
<rect x="1608.7" y="1032.5" width="3.3" height="4.5" fill="#0a0aff" />
<rect x="1626.3" y="1032.5" width="12.6" height="0.8" fill="#7a7aff" />
<rect x="1667.5" y="1032.5" width="15.6" height="0.8" fill="#7a7aff" />
<rect x="1696.4" y="1032.5" width="4.3" height="2.7" fill="#0a0aff" />
<rect x="1701.4" y="1032.5" width="20.9" height="5.4" fill="#0a0aff" />
<rect x="1764.6" y="1032.5" width="48.5" height="0.8" fill="#7a7aff" />
<text x="1385.0" y="1130.9" font-size="24.8" text-anchor="end">GSK-J4</text>
<line x1="1397.8" y1="1126.8" x2="1470.9" y2="1126.8" stroke="#c2c2c2" stroke-width="2.2" />
<line x1="1485.2" y1="1126.8" x2="1558.9" y2="1126.8" stroke="#c2c2c2" stroke-width="2.2" />
<line x1="1572.6" y1="1126.8" x2="1646.4" y2="1126.8" stroke="#c2c2c2" stroke-width="2.2" />
<line x1="1660.1" y1="1126.8" x2="1734.1" y2="1126.8" stroke="#c2c2c2" stroke-width="2.2" />
<line x1="1747.8" y1="1126.8" x2="1822.2" y2="1126.8" stroke="#c2c2c2" stroke-width="2.2" />
<rect x="1402.3" y="1127.9" width="8.3" height="4.5" fill="#0a0aff" />
<rect x="1426.2" y="1127.9" width="4.3" height="4.5" fill="#0a0aff" />
<rect x="1438.5" y="1127.9" width="28.9" height="3.1" fill="#0a0aff" />
<rect x="1493.0" y="1127.9" width="19.0" height="4.5" fill="#0a0aff" />
<rect x="1527.2" y="1127.9" width="19.7" height="2.2" fill="#0a0aff" />
<rect x="1578.8" y="1127.9" width="19.6" height="6.7" fill="#0a0aff" />
<rect x="1608.7" y="1127.9" width="3.3" height="10.7" fill="#0a0aff" />
<rect x="1626.3" y="1127.9" width="12.6" height="6.7" fill="#0a0aff" />
<rect x="1667.5" y="1127.9" width="15.6" height="4.5" fill="#0a0aff" />
<rect x="1701.4" y="1127.9" width="20.9" height="4.5" fill="#0a0aff" />
<text x="1385.0" y="1226.2" font-size="24.8" text-anchor="end">UNC1215</text>
<line x1="1397.8" y1="1222.1" x2="1470.9" y2="1222.1" stroke="#c2c2c2" stroke-width="2.2" />
<line x1="1485.2" y1="1222.1" x2="1558.9" y2="1222.1" stroke="#c2c2c2" stroke-width="2.2" />
<line x1="1572.6" y1="1222.1" x2="1646.4" y2="1222.1" stroke="#c2c2c2" stroke-width="2.2" />
<line x1="1660.1" y1="1222.1" x2="1734.1" y2="1222.1" stroke="#c2c2c2" stroke-width="2.2" />
<line x1="1747.8" y1="1222.1" x2="1822.2" y2="1222.1" stroke="#c2c2c2" stroke-width="2.2" />
<rect x="1402.3" y="1218.0" width="8.3" height="3.0" fill="#cc1166" />
<rect x="1426.2" y="1223.2" width="4.3" height="2.0" fill="#0a0aff" />
<rect x="1493.0" y="1223.2" width="19.0" height="3.6" fill="#0a0aff" />
<rect x="1527.2" y="1223.2" width="19.7" height="5.8" fill="#0a0aff" />
<rect x="1626.3" y="1223.2" width="12.6" height="2.2" fill="#0a0aff" />
<rect x="1696.4" y="1223.2" width="4.3" height="14.3" fill="#0a0aff" />
<rect x="1764.6" y="1223.2" width="48.5" height="2.0" fill="#0a0aff" />
<line x1="1241.8" y1="345.3" x2="1241.8" y2="680.6" stroke="#000" stroke-width="2" />
<line x1="1241.8" y1="736.7" x2="1241.8" y2="1285.5" stroke="#000" stroke-width="2" />
<text x="1225.5" y="545.4" font-size="29" text-anchor="middle" transform="rotate(-90 1225.5 545.4)">Acetylation axis</text>
<text x="1225.5" y="996.6" font-size="29" text-anchor="middle" transform="rotate(-90 1225.5 996.6)">Methylation axis</text>
</g>
<g id="panel-c">
<text x="-1.5" y="1407.5" font-size="42.5" font-weight="bold">c</text>
<defs>
<linearGradient id="gY" x1="0" y1="0" x2="0" y2="1"><stop offset="0" stop-color="#d1dd19"/><stop offset="0.25" stop-color="#d1dd19"/><stop offset="1" stop-color="#626810"/></linearGradient>
<linearGradient id="gO" x1="0" y1="0" x2="0" y2="1"><stop offset="0" stop-color="#f9b141"/><stop offset="0.25" stop-color="#f9b141"/><stop offset="1" stop-color="#87500a"/></linearGradient>
<linearGradient id="gR" x1="0" y1="0" x2="1" y2="1"><stop offset="0" stop-color="#dd5131"/><stop offset="0.58" stop-color="#dd5131"/><stop offset="0.8" stop-color="#c04428"/><stop offset="1" stop-color="#7d1400"/></linearGradient>
<linearGradient id="gB" x1="0" y1="0" x2="0" y2="1"><stop offset="0" stop-color="#004878"/><stop offset="0.27" stop-color="#2da9e1"/><stop offset="1" stop-color="#2da9e1"/></linearGradient>
<linearGradient id="gG" x1="0" y1="0" x2="0" y2="1"><stop offset="0" stop-color="#005818"/><stop offset="0.27" stop-color="#31b979"/><stop offset="1" stop-color="#31b979"/></linearGradient>
<linearGradient id="gP" x1="0" y1="0" x2="1" y2="1"><stop offset="0" stop-color="#44275a"/><stop offset="0.5" stop-color="#9b77b1"/><stop offset="1" stop-color="#9b77b1"/></linearGradient>
</defs>
<rect x="255.6" y="1474.0" width="214.8" height="214.8" rx="36" ry="36" transform="rotate(45 363.0 1581.4)" fill="url(#gR)" fill-opacity="0.5"/>
<rect x="266.1" y="1479.7" width="326.5" height="137.5" rx="36" ry="36" transform="rotate(45 429.4 1548.4)" fill="url(#gO)" fill-opacity="0.5"/>
<rect x="133.1" y="1479.7" width="326.5" height="137.5" rx="36" ry="36" transform="rotate(-45 296.3 1548.4)" fill="url(#gY)" fill-opacity="0.5"/>
<text x="365.0" y="1430.5" font-size="17.8" text-anchor="middle">1826</text>
<text x="361.5" y="1519.5" font-size="27" text-anchor="middle" fill="#fff">45</text>
<text x="286.5" y="1591.4" font-size="17.8" text-anchor="middle">19</text>
<text x="439.4" y="1588.1" font-size="17.8" text-anchor="middle">20</text>
<text x="200.4" y="1647.6" font-size="17.8" text-anchor="middle">593</text>
<text x="518.5" y="1646.8" font-size="17.8" text-anchor="middle">1248</text>
<text x="365.0" y="1666.6" font-size="17.8" text-anchor="middle">145</text>
<text x="188.6" y="1744.3" font-size="25.5" text-anchor="middle">HDACi (pan)</text>
<text x="362.3" y="1744.3" font-size="25.6" text-anchor="middle">HDAC1/2i</text>
<text x="542.8" y="1744.3" font-size="25.4" text-anchor="middle">HDAC1/2/3/8i</text>
<polyline points="161.3,1789.1 160.7,1790.1 160.3,1791.0 160.4,1791.6 160.9,1791.9 161.9,1792.0 163.1,1791.8 164.3,1791.7 165.3,1791.7 165.8,1792.0 165.9,1792.6 165.5,1793.5 164.9,1794.6 164.3,1795.6 163.9,1796.5 164.0,1797.1 164.5,1797.4 165.5,1797.4 166.7,1797.3 167.9,1797.2 168.9,1797.2 169.5,1797.5 169.5,1798.1 169.2,1799.0 168.5,1800.0 167.9,1801.1 167.6,1802.0 167.6,1802.6 168.2,1802.9 169.1,1802.9 170.4,1802.8 171.6,1802.6 172.5,1802.7 173.1,1803.0 173.2,1803.6 172.8,1804.5 172.2,1805.5" fill="none" stroke="#000" stroke-width="1.5" stroke-linejoin="round"/>
<line x1="171.5" y1="1795.6" x2="191.1" y2="1784.4" stroke="#000" stroke-width="1.5" stroke-linecap="round"/>
<line x1="189.3" y1="1784.4" x2="189.3" y2="1770.4" stroke="#000" stroke-width="1.5" stroke-linecap="round"/>
<line x1="193.0" y1="1784.4" x2="193.0" y2="1770.4" stroke="#000" stroke-width="1.5" stroke-linecap="round"/>
<text x="191.1" y="1768.9" font-size="15" text-anchor="middle">O</text>
<line x1="191.1" y1="1784.4" x2="204.2" y2="1791.5" stroke="#000" stroke-width="1.5" stroke-linecap="round"/>
<text x="209.8" y="1799.4" font-size="15" text-anchor="middle">N</text>
<text x="209.8" y="1815.0" font-size="15" text-anchor="middle">H</text>
<line x1="215.7" y1="1791.2" x2="222.9" y2="1787.2" stroke="#000" stroke-width="1.5" stroke-linecap="round"/>
<text x="234.4" y="1789.2" font-size="15" text-anchor="middle">OH</text>
<polyline points="300.9,1786.9 302.1,1787.3 303.0,1787.5 303.6,1787.3 303.8,1786.8 303.6,1785.8 303.2,1784.6 302.8,1783.5 302.7,1782.5 302.8,1782.0 303.4,1781.8 304.4,1782.0 305.5,1782.4 306.7,1782.8 307.6,1783.0 308.2,1782.9 308.4,1782.3 308.2,1781.3 307.8,1780.2 307.4,1779.0 307.2,1778.1 307.4,1777.5 308.0,1777.3 308.9,1777.5 310.1,1778.0 311.2,1778.4 312.2,1778.6 312.7,1778.4 312.9,1777.8 312.7,1776.9 312.4,1775.7 312.0,1774.6 311.8,1773.6 312.0,1773.0 312.5,1772.9 313.5,1773.1 314.6,1773.5" fill="none" stroke="#000" stroke-width="1.5" stroke-linejoin="round"/>
<line x1="314.0" y1="1782.2" x2="331.7" y2="1793.1" stroke="#000" stroke-width="1.5" stroke-linecap="round"/>
<line x1="329.9" y1="1793.7" x2="329.9" y2="1808.7" stroke="#000" stroke-width="1.5" stroke-linecap="round"/>
<line x1="333.6" y1="1793.7" x2="333.6" y2="1808.7" stroke="#000" stroke-width="1.5" stroke-linecap="round"/>
<text x="331.7" y="1820.3" font-size="15" text-anchor="middle">O</text>
<line x1="331.7" y1="1793.1" x2="345.1" y2="1785.0" stroke="#000" stroke-width="1.5" stroke-linecap="round"/>
<text x="350.4" y="1783.9" font-size="15" text-anchor="middle">N</text>
<text x="350.4" y="1770.5" font-size="15" text-anchor="middle">H</text>
<line x1="355.7" y1="1782.2" x2="370.0" y2="1790.9" stroke="#000" stroke-width="1.5" stroke-linecap="round"/>
<line x1="370.0" y1="1790.9" x2="370.0" y2="1812.7" stroke="#000" stroke-width="1.5" stroke-linecap="round"/>
<line x1="370.0" y1="1812.7" x2="388.7" y2="1823.6" stroke="#000" stroke-width="1.5" stroke-linecap="round"/>
<line x1="388.7" y1="1823.6" x2="407.3" y2="1812.7" stroke="#000" stroke-width="1.5" stroke-linecap="round"/>
<line x1="407.3" y1="1812.7" x2="407.3" y2="1792.2" stroke="#000" stroke-width="1.5" stroke-linecap="round"/>
<line x1="407.3" y1="1792.2" x2="388.7" y2="1781.6" stroke="#000" stroke-width="1.5" stroke-linecap="round"/>
<line x1="388.7" y1="1781.6" x2="370.0" y2="1790.9" stroke="#000" stroke-width="1.5" stroke-linecap="round"/>
<line x1="373.7" y1="1793.1" x2="373.7" y2="1810.5" stroke="#000" stroke-width="1.5" stroke-linecap="round"/>
<line x1="388.7" y1="1819.2" x2="403.6" y2="1810.5" stroke="#000" stroke-width="1.5" stroke-linecap="round"/>
<line x1="403.6" y1="1794.3" x2="389.9" y2="1785.9" stroke="#000" stroke-width="1.5" stroke-linecap="round"/>
<line x1="388.7" y1="1781.6" x2="388.7" y2="1770.4" stroke="#000" stroke-width="1.5" stroke-linecap="round"/>
<text x="388.7" y="1765.8" font-size="15" text-anchor="middle">N</text>
<text x="398.6" y="1765.8" font-size="15" text-anchor="middle">H</text>
<text x="406.7" y="1769.0" font-size="10.5" text-anchor="middle">2</text>
<line x1="388.7" y1="1823.6" x2="388.7" y2="1838.2" stroke="#000" stroke-width="1.5" stroke-linecap="round"/>
<line x1="388.7" y1="1838.2" x2="372.2" y2="1849.1" stroke="#000" stroke-width="1.5" stroke-linecap="round"/>
<line x1="372.2" y1="1849.1" x2="377.8" y2="1866.8" stroke="#000" stroke-width="1.5" stroke-linecap="round"/>
<line x1="377.8" y1="1866.8" x2="398.0" y2="1866.8" stroke="#000" stroke-width="1.5" stroke-linecap="round"/>
<line x1="398.0" y1="1866.8" x2="401.7" y2="1856.2" stroke="#000" stroke-width="1.5" stroke-linecap="round"/>
<line x1="388.7" y1="1838.2" x2="399.2" y2="1845.0" stroke="#000" stroke-width="1.5" stroke-linecap="round"/>
<line x1="375.6" y1="1850.0" x2="388.7" y2="1841.9" stroke="#000" stroke-width="1.5" stroke-linecap="round"/>
<line x1="380.0" y1="1863.7" x2="396.1" y2="1863.7" stroke="#000" stroke-width="1.5" stroke-linecap="round"/>
<text x="404.2" y="1856.0" font-size="15" text-anchor="middle">S</text>
<polyline points="482.6,1787.8 482.0,1788.9 481.7,1789.8 481.8,1790.5 482.4,1790.7 483.4,1790.7 484.6,1790.5 485.8,1790.3 486.8,1790.3 487.3,1790.6 487.4,1791.2 487.1,1792.1 486.5,1793.2 486.0,1794.3 485.7,1795.2 485.8,1795.8 486.3,1796.1 487.3,1796.1 488.5,1795.9 489.7,1795.7 490.7,1795.7 491.3,1795.9 491.4,1796.6 491.0,1797.5 490.5,1798.6 489.9,1799.7 489.6,1800.6 489.7,1801.2 490.3,1801.5 491.2,1801.5 492.5,1801.3 493.7,1801.1 494.7,1801.1 495.2,1801.3 495.3,1802.0 495.0,1802.9 494.4,1804.0" fill="none" stroke="#000" stroke-width="1.5" stroke-linejoin="round"/>
<line x1="492.6" y1="1793.1" x2="510.6" y2="1782.2" stroke="#000" stroke-width="1.5" stroke-linecap="round"/>
<line x1="510.6" y1="1782.2" x2="528.6" y2="1793.1" stroke="#000" stroke-width="1.5" stroke-linecap="round"/>
<line x1="526.8" y1="1793.7" x2="526.8" y2="1808.7" stroke="#000" stroke-width="1.5" stroke-linecap="round"/>
<line x1="530.5" y1="1793.7" x2="530.5" y2="1808.7" stroke="#000" stroke-width="1.5" stroke-linecap="round"/>
<text x="528.6" y="1820.3" font-size="15" text-anchor="middle">O</text>
<polygon points="528.6,1792.5 547.9,1779.7 547.9,1783.5 528.6,1794.0" fill="#000" stroke="none" stroke-width="0" />
<line x1="547.9" y1="1781.6" x2="569.7" y2="1781.6" stroke="#000" stroke-width="1.5" stroke-linecap="round"/>
<line x1="547.9" y1="1781.6" x2="555.7" y2="1769.1" stroke="#000" stroke-width="1.5" stroke-linecap="round"/>
<line x1="569.7" y1="1781.6" x2="562.2" y2="1769.1" stroke="#000" stroke-width="1.5" stroke-linecap="round"/>
<text x="558.8" y="1766.5" font-size="15" text-anchor="middle">O</text>
<polygon points="222.9,1877.3 330.8,1877.3 330.8,1879.2 222.9,1901.2" fill="#f5f7cf" stroke="none" stroke-width="0" />
<polygon points="222.9,1901.2 330.8,1879.2 330.8,2036.7 222.9,2023.5" fill="#e6e7e8" stroke="none" stroke-width="0" />
<polygon points="222.9,2023.5 330.8,2036.7 330.8,2054.6 222.9,2054.6" fill="#dcebf4" stroke="none" stroke-width="0" />
<polygon points="397.7,1877.3 505.1,1877.3 505.1,1907.5 397.7,1879.2" fill="#f9e5dc" stroke="none" stroke-width="0" />
<polygon points="397.7,1879.2 505.1,1907.5 505.1,2026.0 397.7,2036.7" fill="#e9eaeb" stroke="none" stroke-width="0" />
<polygon points="397.7,2036.7 505.1,2026.0 505.1,2054.6 397.7,2054.6" fill="#e6e2ea" stroke="none" stroke-width="0" />
<rect x="156.0" y="1877.3" width="66.9" height="23.9" fill="#e8e88c" />
<rect x="156.0" y="1901.2" width="66.9" height="122.3" fill="#bcbdbf" />
<rect x="156.0" y="2023.5" width="66.9" height="31.1" fill="#a6d0e8" />
<rect x="330.8" y="1877.3" width="66.9" height="1.9" fill="#e8a585" />
<rect x="330.8" y="1879.2" width="66.9" height="157.5" fill="#bcbdbf" />
<rect x="330.8" y="2036.7" width="66.9" height="17.9" fill="#aaa0bc" />
<rect x="505.1" y="1877.3" width="66.9" height="30.2" fill="#fcd49c" />
<rect x="505.1" y="1907.5" width="66.9" height="118.5" fill="#bcbdbf" />
<rect x="505.1" y="2026.0" width="66.9" height="28.6" fill="#9fd0b4" />
<line x1="139.0" y1="1858.3" x2="139.0" y2="2055.8" stroke="#000" stroke-width="2.4" />
<line x1="134.5" y1="2054.6" x2="605.3" y2="2054.6" stroke="#000" stroke-width="2.4" />
<line x1="134.5" y1="1862.8" x2="139.0" y2="1862.8" stroke="#000" stroke-width="2.2" />
<text x="122.8" y="1870.8" font-size="24.7" text-anchor="end">20,000</text>
<line x1="134.5" y1="1911.0" x2="139.0" y2="1911.0" stroke="#000" stroke-width="2.2" />
<text x="122.8" y="1919.0" font-size="24.7" text-anchor="end">15,000</text>
<line x1="134.5" y1="1958.7" x2="139.0" y2="1958.7" stroke="#000" stroke-width="2.2" />
<text x="122.8" y="1966.7" font-size="24.7" text-anchor="end">10,000</text>
<line x1="134.5" y1="2006.9" x2="139.0" y2="2006.9" stroke="#000" stroke-width="2.2" />
<text x="122.8" y="2014.9" font-size="24.7" text-anchor="end">5000</text>
<line x1="134.5" y1="2054.6" x2="139.0" y2="2054.6" stroke="#000" stroke-width="2.2" />
<text x="122.8" y="2062.6" font-size="24.7" text-anchor="end">0</text>
<text x="25.5" y="1954.5" font-size="25" text-anchor="middle" transform="rotate(-90 25.5 1954.5)">Protein coding genes</text>
<text x="579.5" y="1900.3" font-size="25.2">Up</text>
<text x="579.5" y="1974.5" font-size="25.2">No change</text>
<text x="579.5" y="2045.2" font-size="25.2">Down</text>
<text x="190.1" y="2078.9" font-size="24.8" text-anchor="middle">LAQ824</text>
<text x="365.1" y="2078.9" font-size="24.8" text-anchor="middle">Merck60</text>
<text x="539.6" y="2078.9" font-size="24.8" text-anchor="middle">NS1302</text>
<rect x="129.9" y="2182.8" width="326.5" height="137.5" rx="36" ry="36" transform="rotate(45 293.1 2251.6)" fill="url(#gB)" fill-opacity="0.5"/>
<rect x="252.7" y="2111.0" width="214.8" height="214.8" rx="36" ry="36" transform="rotate(45 360.1 2218.4)" fill="url(#gP)" fill-opacity="0.55"/>
<rect x="263.9" y="2182.8" width="326.5" height="137.5" rx="36" ry="36" transform="rotate(-45 427.1 2251.6)" fill="url(#gG)" fill-opacity="0.5"/>
<text x="200.4" y="2166.6" font-size="17.8" text-anchor="middle">885</text>
<text x="360.9" y="2149.8" font-size="17.8" text-anchor="middle">776</text>
<text x="513.9" y="2166.6" font-size="17.8" text-anchor="middle">1141</text>
<text x="282.4" y="2222.9" font-size="17.8" text-anchor="middle">519</text>
<text x="436.4" y="2222.9" font-size="17.8" text-anchor="middle">20</text>
<text x="359.6" y="2302.0" font-size="27" text-anchor="middle" fill="#fff">466</text>
<text x="361.5" y="2383.1" font-size="17.8" text-anchor="middle">1315</text>
</g>
<g id="panel-d">
<text x="755.5" y="1407.3" font-size="42.5" font-weight="bold">d</text>
<text x="1120.6" y="1414.9" font-size="25.7" text-anchor="middle">HDACi v. DMSO</text>
<text x="1120.4" y="1445.3" font-size="25.1" text-anchor="middle">(average, ΔFPKM)</text>
<rect x="965.0" y="1507.2" width="294.7" height="857.2" fill="#fff" stroke="#3c3c3c" stroke-width="1.7"/>
<line x1="968.9" y1="1502.3" x2="968.9" y2="1507.6" stroke="#333" stroke-width="1.5" />
<text x="959.7" y="1490.9" font-size="24.7" text-anchor="middle">–120</text>
<line x1="968.9" y1="1515.0" x2="968.9" y2="2357.0" stroke="#dedede" stroke-width="1.2" />
<line x1="1040.0" y1="1502.3" x2="1040.0" y2="1507.6" stroke="#333" stroke-width="1.5" />
<text x="1032.8" y="1490.9" font-size="24.7" text-anchor="middle">–80</text>
<line x1="1040.0" y1="1515.0" x2="1040.0" y2="2357.0" stroke="#dedede" stroke-width="1.2" />
<line x1="1110.6" y1="1502.3" x2="1110.6" y2="1507.6" stroke="#333" stroke-width="1.5" />
<text x="1102.7" y="1490.9" font-size="24.7" text-anchor="middle">–40</text>
<line x1="1110.6" y1="1515.0" x2="1110.6" y2="2357.0" stroke="#dedede" stroke-width="1.2" />
<line x1="1181.7" y1="1502.3" x2="1181.7" y2="1507.6" stroke="#333" stroke-width="1.5" />
<text x="1181.7" y="1490.9" font-size="24.7" text-anchor="middle">0</text>
<line x1="1252.5" y1="1502.3" x2="1252.5" y2="1507.6" stroke="#333" stroke-width="1.5" />
<text x="1252.5" y="1490.9" font-size="24.7" text-anchor="middle">40</text>
<line x1="1252.5" y1="1515.0" x2="1252.5" y2="2357.0" stroke="#dedede" stroke-width="1.2" />
<clipPath id="dclip"><polygon points="1181.9,1515.2 1246.5,1514.7 1231.9,1516.8 1222.3,1518.7 1212.6,1520.0 1206.1,1523.5 1200.5,1527.6 1196.5,1533.2 1193.2,1537.3 1190.8,1542.9 1188.7,1551.0 1186.8,1563.9 1185.2,1583.2 1183.9,1609.0 1183.1,1641.3 1182.4,1689.7 1182.2,1721.9 1182.0,1800.0 1181.3,2100.0 1180.3,2136.3 1178.6,2184.7 1176.2,2221.0 1173.8,2250.0 1170.2,2281.5 1165.3,2305.7 1160.5,2322.6 1155.7,2329.9 1149.6,2339.5 1141.1,2343.2 1133.9,2348.0 1129.0,2350.4 1109.7,2351.6 1071.0,2354.1 1022.6,2355.3 978.6,2356.5 1181.9,2356.5"/></clipPath>
<polygon points="1181.9,1515.2 1246.5,1514.7 1231.9,1516.8 1222.3,1518.7 1212.6,1520.0 1206.1,1523.5 1200.5,1527.6 1196.5,1533.2 1193.2,1537.3 1190.8,1542.9 1188.7,1551.0 1186.8,1563.9 1185.2,1583.2 1183.9,1609.0 1183.1,1641.3 1182.4,1689.7 1182.2,1721.9 1182.0,1800.0 1181.3,2100.0 1180.3,2136.3 1178.6,2184.7 1176.2,2221.0 1173.8,2250.0 1170.2,2281.5 1165.3,2305.7 1160.5,2322.6 1155.7,2329.9 1149.6,2339.5 1141.1,2343.2 1133.9,2348.0 1129.0,2350.4 1109.7,2351.6 1071.0,2354.1 1022.6,2355.3 978.6,2356.5 1181.9,2356.5" fill="#5a5a5a"/>
<g clip-path="url(#dclip)">
<rect x="960.0" y="2133.9" width="223.0" height="0.7" fill="#39b34a" />
<rect x="960.0" y="2182.3" width="223.0" height="0.7" fill="#39b34a" />
<rect x="960.0" y="2188.3" width="223.0" height="0.7" fill="#39b34a" />
<rect x="960.0" y="2200.4" width="223.0" height="0.7" fill="#39b34a" />
<rect x="960.0" y="2214.0" width="223.0" height="0.7" fill="#39b34a" />
<rect x="960.0" y="2229.0" width="223.0" height="0.7" fill="#39b34a" />
<rect x="960.0" y="2241.0" width="223.0" height="0.7" fill="#39b34a" />
<rect x="960.0" y="2252.0" width="223.0" height="0.7" fill="#39b34a" />
<rect x="960.0" y="2259.0" width="223.0" height="0.7" fill="#39b34a" />
<rect x="960.0" y="2266.0" width="223.0" height="0.9" fill="#39b34a" />
<rect x="960.0" y="2270.2" width="223.0" height="0.9" fill="#39b34a" />
<rect x="960.0" y="2273.2" width="223.0" height="0.7" fill="#39b34a" />
<rect x="960.0" y="2276.2" width="223.0" height="0.9" fill="#39b34a" />
<rect x="960.0" y="2279.2" width="223.0" height="1.2" fill="#39b34a" />
<rect x="960.0" y="2283.4" width="223.0" height="0.7" fill="#39b34a" />
<rect x="960.0" y="2286.4" width="223.0" height="0.9" fill="#39b34a" />
<rect x="960.0" y="2293.4" width="223.0" height="0.7" fill="#39b34a" />
<rect x="960.0" y="2297.6" width="223.0" height="0.7" fill="#39b34a" />
<rect x="960.0" y="2304.6" width="223.0" height="0.7" fill="#39b34a" />
<rect x="960.0" y="2307.6" width="223.0" height="0.7" fill="#39b34a" />
<rect x="960.0" y="2310.6" width="223.0" height="1.2" fill="#39b34a" />
<rect x="960.0" y="2317.6" width="223.0" height="0.7" fill="#39b34a" />
<rect x="960.0" y="2319.0" width="223.0" height="38.0" fill="#39b34a" />
<rect x="960.0" y="2321.5" width="223.0" height="1.0" fill="#5a5a5a" />
<rect x="960.0" y="2325.5" width="223.0" height="2.0" fill="#5a5a5a" />
<rect x="960.0" y="2329.7" width="223.0" height="0.7" fill="#5a5a5a" />
<rect x="960.0" y="2333.4" width="223.0" height="1.0" fill="#5a5a5a" />
<rect x="960.0" y="2335.9" width="223.0" height="1.0" fill="#5a5a5a" />
<rect x="960.0" y="2339.9" width="223.0" height="0.7" fill="#5a5a5a" />
<rect x="960.0" y="2342.1" width="223.0" height="0.7" fill="#5a5a5a" />
<rect x="960.0" y="2345.0" width="223.0" height="2.0" fill="#5a5a5a" />
<rect x="960.0" y="2350.6" width="223.0" height="1.4" fill="#5a5a5a" />
<rect x="960.0" y="2355.6" width="223.0" height="2.0" fill="#5a5a5a" />
</g>
<polyline points="1170.2,2281.5 1165.3,2305.7 1160.5,2322.6 1155.7,2329.9 1149.6,2339.5 1141.1,2343.2 1133.9,2348.0 1129.0,2350.4 1109.7,2351.6 1071.0,2354.1 1022.6,2355.3 978.6,2356.5" fill="none" stroke="#3a3a3a" stroke-width="0.9" />
<line x1="1098.3" y1="1531.7" x2="1159.6" y2="2322.6" stroke="#333" stroke-width="2.2" />
<line x1="765.9" y1="2288.3" x2="978.6" y2="2356.4" stroke="#333" stroke-width="2.6" />
<text x="1214.0" y="1921.8" font-size="25.05" text-anchor="middle" transform="rotate(-90 1214.0 1921.8)">all TFs, by rank of HDACi response</text>
<rect x="757.7" y="1531.7" width="340.9" height="755.9" fill="#fff" stroke="#333" stroke-width="2.5"/>
<rect x="1059.4" y="1546.1" width="27.4" height="12.9" fill="#39b34a" />
<rect x="1058.6" y="1559.9" width="28.2" height="12.9" fill="#39b34a" />
<rect x="1058.3" y="1573.7" width="28.5" height="12.9" fill="#39b34a" />
<rect x="1057.9" y="1587.5" width="28.9" height="12.9" fill="#39b34a" />
<rect x="1057.5" y="1601.3" width="29.3" height="12.9" fill="#595959" />
<rect x="1057.1" y="1615.1" width="29.7" height="12.9" fill="#595959" />
<rect x="1056.3" y="1628.9" width="30.5" height="12.9" fill="#39b34a" />
<rect x="1056.0" y="1642.7" width="30.8" height="12.9" fill="#595959" />
<rect x="1055.6" y="1656.5" width="31.2" height="12.9" fill="#595959" />
<rect x="1055.2" y="1670.4" width="31.6" height="12.9" fill="#595959" />
<rect x="1054.4" y="1684.2" width="32.4" height="12.9" fill="#595959" />
<rect x="1053.7" y="1698.0" width="33.1" height="12.9" fill="#39b34a" />
<rect x="1052.9" y="1711.8" width="33.9" height="12.9" fill="#39b34a" />
<rect x="1052.2" y="1725.6" width="34.6" height="12.9" fill="#39b34a" />
<rect x="1051.8" y="1739.4" width="35.0" height="12.9" fill="#595959" />
<rect x="1051.0" y="1753.2" width="35.8" height="12.9" fill="#595959" />
<rect x="1050.3" y="1767.0" width="36.5" height="12.9" fill="#595959" />
<rect x="1050.3" y="1780.8" width="36.5" height="12.9" fill="#595959" />
<rect x="1049.9" y="1794.6" width="36.9" height="12.9" fill="#595959" />
<rect x="1049.1" y="1808.5" width="37.7" height="12.9" fill="#595959" />
<rect x="1048.7" y="1822.3" width="38.1" height="12.9" fill="#595959" />
<rect x="1048.4" y="1836.1" width="38.4" height="12.9" fill="#595959" />
<rect x="1048.0" y="1849.9" width="38.8" height="12.9" fill="#39b34a" />
<rect x="1048.0" y="1863.7" width="38.8" height="12.9" fill="#595959" />
<rect x="1047.6" y="1877.5" width="39.2" height="12.9" fill="#595959" />
<rect x="1047.2" y="1891.3" width="39.6" height="12.9" fill="#39b34a" />
<rect x="1046.8" y="1905.1" width="40.0" height="12.9" fill="#595959" />
<rect x="1046.5" y="1918.9" width="40.3" height="12.9" fill="#595959" />
<rect x="1043.0" y="1932.7" width="43.8" height="12.9" fill="#39b34a" />
<rect x="1042.3" y="1946.6" width="44.5" height="12.9" fill="#595959" />
<rect x="1041.5" y="1960.4" width="45.3" height="12.9" fill="#595959" />
<rect x="1037.7" y="1974.2" width="49.1" height="12.9" fill="#595959" />
<rect x="1035.4" y="1988.0" width="51.4" height="12.9" fill="#595959" />
<rect x="1035.1" y="2001.8" width="51.7" height="12.9" fill="#595959" />
<rect x="1033.2" y="2015.6" width="53.6" height="12.9" fill="#595959" />
<rect x="1032.8" y="2029.4" width="54.0" height="12.9" fill="#595959" />
<rect x="1031.3" y="2043.2" width="55.5" height="12.9" fill="#595959" />
<rect x="1029.0" y="2057.0" width="57.8" height="12.9" fill="#595959" />
<rect x="1028.2" y="2070.8" width="58.6" height="12.9" fill="#39b34a" />
<rect x="1027.8" y="2084.7" width="59.0" height="12.9" fill="#39b34a" />
<rect x="1026.3" y="2098.5" width="60.5" height="12.9" fill="#595959" />
<rect x="1024.4" y="2112.3" width="62.4" height="12.9" fill="#595959" />
<rect x="1024.0" y="2126.1" width="62.8" height="12.9" fill="#595959" />
<rect x="1020.6" y="2139.9" width="66.2" height="12.9" fill="#39b34a" />
<rect x="1012.2" y="2153.7" width="74.6" height="12.9" fill="#595959" />
<rect x="987.1" y="2167.5" width="99.7" height="12.9" fill="#39b34a" />
<rect x="983.3" y="2181.3" width="103.5" height="12.9" fill="#595959" />
<rect x="978.8" y="2195.1" width="108.0" height="12.9" fill="#39b34a" />
<rect x="950.3" y="2208.9" width="136.5" height="12.9" fill="#39b34a" />
<rect x="940.0" y="2222.7" width="146.8" height="12.9" fill="#595959" />
<rect x="900.8" y="2236.6" width="186.0" height="12.9" fill="#39b34a" />
<rect x="845.7" y="2250.4" width="241.1" height="12.9" fill="#39b34a" />
<rect x="836.2" y="2264.2" width="250.6" height="12.9" fill="#39b34a" />
<text x="1052.5" y="1557.1" font-size="15" text-anchor="end" font-style="italic">ZNF217</text>
<text x="1051.8" y="1572.3" font-size="15" text-anchor="end" font-style="italic">MYCN</text>
<text x="1048.7" y="1587.9" font-size="15" text-anchor="end" font-style="italic">POU4F1</text>
<text x="1049.1" y="1603.1" font-size="15" text-anchor="end" font-style="italic">TBX15</text>
<text x="1049.1" y="1641.9" font-size="15" text-anchor="end" font-style="italic">ZNF644</text>
<text x="1042.3" y="1707.3" font-size="15" text-anchor="end" font-style="italic">TSHZ3</text>
<text x="1044.2" y="1723.6" font-size="15" text-anchor="end" font-style="italic">ETS1</text>
<text x="1043.4" y="1741.5" font-size="15" text-anchor="end" font-style="italic">FOXF1</text>
<text x="1042.3" y="1861.6" font-size="15" text-anchor="end" font-style="italic">SNAI2</text>
<text x="1042.3" y="1903.5" font-size="15" text-anchor="end" font-style="italic">ZEB2</text>
<text x="1035.8" y="1945.3" font-size="15" text-anchor="end" font-style="italic">NFE2L2</text>
<text x="1023.7" y="2082.9" font-size="15" text-anchor="end" font-style="italic">SIX2</text>
<text x="1018.7" y="2100.8" font-size="15" text-anchor="end" font-style="italic">HIF1A</text>
<text x="1014.5" y="2149.5" font-size="15.3" text-anchor="end" font-style="italic">JUN</text>
<text x="982.2" y="2177.2" font-size="15.3" text-anchor="end" font-style="italic">PEG3</text>
<text x="974.6" y="2203.5" font-size="15.3" text-anchor="end" font-style="italic">TGIF1</text>
<text x="943.4" y="2220.6" font-size="17" text-anchor="end" font-style="italic">ID3</text>
<text x="898.9" y="2244.5" font-size="20.3" text-anchor="end" font-style="italic">SOX8</text>
<text x="842.7" y="2257.8" font-size="20.3" text-anchor="end" font-style="italic">MYOD1</text>
<text x="830.1" y="2279.9" font-size="20.3" text-anchor="end" font-style="italic">MYOG</text>
<rect x="792.1" y="1760.5" width="45.6" height="13.3" fill="#39b34a" />
<text x="848.4" y="1773.0" font-size="25.4">CRC TFs</text>
<text x="848.4" y="1803.5" font-size="25.3">(<tspan font-style="italic">n</tspan> = 39)</text>
<rect x="792.1" y="1838.4" width="45.6" height="13.3" fill="#595959" />
<text x="848.4" y="1852.1" font-size="25.4">Other TFs</text>
<text x="848.4" y="1882.2" font-size="25.3">(<tspan font-style="italic">n</tspan> = 1364)</text>
<polygon points="1278.4,1649.4 1280.3,1670.3 1281.9,1691.3 1280.3,1712.3 1278.4,1731.6" fill="#a6dca9" stroke="#111" stroke-width="1.5" />
<rect x="1278.4" y="1682.4" width="8.1" height="18.6" fill="#39b34a" stroke="#111" stroke-width="1.2"/>
<path d="M1278.3 2080.6 C1278.5 2087.1 1278.4 2087.1 1278.8 2100.0 C1279.2 2112.9 1278.5 2107.3 1279.5 2119.4 C1280.6 2131.5 1280.7 2125.0 1282.0 2136.3 C1283.3 2147.6 1281.6 2141.9 1283.4 2153.2 C1285.3 2164.5 1284.1 2159.7 1287.5 2170.2 C1290.9 2180.7 1290.9 2176.6 1293.6 2184.7 C1296.2 2192.7 1295.9 2187.1 1295.5 2194.4 C1295.1 2201.6 1295.8 2199.2 1292.4 2206.5 C1288.9 2213.7 1288.9 2208.9 1285.1 2216.1 C1281.3 2223.4 1282.6 2221.0 1281.0 2228.2 C1279.4 2235.5 1280.1 2230.7 1280.3 2237.9 C1280.4 2245.2 1279.9 2241.9 1281.5 2250.0 C1283.1 2258.1 1281.1 2253.2 1285.1 2262.1 C1289.1 2271.0 1285.9 2266.9 1293.6 2276.6 C1301.2 2286.3 1297.6 2280.7 1308.1 2291.1 C1318.6 2301.6 1315.4 2297.6 1325.0 2308.1 C1334.7 2318.6 1331.1 2314.5 1337.1 2322.6 C1343.2 2330.7 1341.6 2326.6 1343.2 2332.3 C1344.8 2337.9 1344.8 2333.9 1342.0 2339.5 C1339.1 2345.2 1341.2 2343.6 1334.7 2349.2 C1328.3 2354.9 1330.3 2352.0 1322.6 2356.5 C1314.9 2360.9 1315.4 2360.5 1311.7 2362.5 L1278.3 2362.5 Z" fill="#a6dca9" stroke="none"/>
<rect x="1278.3" y="2134.4" width="8.0" height="18.4" fill="#39b34a" stroke="#111" stroke-width="1.6"/>
<rect x="1278.3" y="2170.7" width="7.5" height="17.9" fill="#39b34a" stroke="#111" stroke-width="1.6"/>
<rect x="1278.3" y="2188.6" width="32.2" height="18.6" fill="#39b34a" stroke="#111" stroke-width="1.6"/>
<rect x="1278.3" y="2261.6" width="8.0" height="17.9" fill="#39b34a" stroke="#111" stroke-width="1.6"/>
<rect x="1278.3" y="2279.5" width="15.7" height="17.9" fill="#39b34a" stroke="#111" stroke-width="1.6"/>
<rect x="1278.3" y="2297.4" width="47.9" height="17.9" fill="#39b34a" stroke="#111" stroke-width="1.6"/>
<rect x="1278.3" y="2315.3" width="63.6" height="18.1" fill="#39b34a" stroke="#111" stroke-width="1.6"/>
<rect x="1278.3" y="2333.5" width="47.9" height="18.1" fill="#39b34a" stroke="#111" stroke-width="1.6"/>
<path d="M1278.3 2080.6 C1278.5 2087.1 1278.4 2087.1 1278.8 2100.0 C1279.2 2112.9 1278.5 2107.3 1279.5 2119.4 C1280.6 2131.5 1280.7 2125.0 1282.0 2136.3 C1283.3 2147.6 1281.6 2141.9 1283.4 2153.2 C1285.3 2164.5 1284.1 2159.7 1287.5 2170.2 C1290.9 2180.7 1290.9 2176.6 1293.6 2184.7 C1296.2 2192.7 1295.9 2187.1 1295.5 2194.4 C1295.1 2201.6 1295.8 2199.2 1292.4 2206.5 C1288.9 2213.7 1288.9 2208.9 1285.1 2216.1 C1281.3 2223.4 1282.6 2221.0 1281.0 2228.2 C1279.4 2235.5 1280.1 2230.7 1280.3 2237.9 C1280.4 2245.2 1279.9 2241.9 1281.5 2250.0 C1283.1 2258.1 1281.1 2253.2 1285.1 2262.1 C1289.1 2271.0 1285.9 2266.9 1293.6 2276.6 C1301.2 2286.3 1297.6 2280.7 1308.1 2291.1 C1318.6 2301.6 1315.4 2297.6 1325.0 2308.1 C1334.7 2318.6 1331.1 2314.5 1337.1 2322.6 C1343.2 2330.7 1341.6 2326.6 1343.2 2332.3 C1344.8 2337.9 1344.8 2333.9 1342.0 2339.5 C1339.1 2345.2 1341.2 2343.6 1334.7 2349.2 C1328.3 2354.9 1330.3 2352.0 1322.6 2356.5 C1314.9 2360.9 1315.4 2360.5 1311.7 2362.5" fill="none" stroke="#111" stroke-width="1.8"/>
<line x1="1278.4" y1="1513.5" x2="1278.4" y2="2362.5" stroke="#111" stroke-width="1.5" />
<line x1="1274.5" y1="2362.5" x2="1353.6" y2="2362.5" stroke="#111" stroke-width="1.5" />
<line x1="1278.4" y1="2362.5" x2="1278.4" y2="2368.5" stroke="#111" stroke-width="1.2" />
<line x1="1297.9" y1="2362.5" x2="1297.9" y2="2368.5" stroke="#111" stroke-width="1.2" />
<line x1="1318.3" y1="2362.5" x2="1318.3" y2="2368.5" stroke="#111" stroke-width="1.2" />
<text x="1279.5" y="2381.4" font-size="12.5" text-anchor="middle">0</text>
<text x="1317.8" y="2381.4" font-size="12.5" text-anchor="middle">7.5</text>
<text x="1300.8" y="2394.7" font-size="14" text-anchor="middle">count</text>
<text x="1311.8" y="1921.5" font-size="25.05" text-anchor="middle" transform="rotate(-90 1311.8 1921.5)">Core regulatory TF rank distribution</text>
</g>
<g id="panel-e">
<text x="1438.5" y="1406.3" font-size="42.5" font-weight="bold">e</text>
<line x1="1583.9" y1="1432.9" x2="1583.9" y2="2001.1" stroke="#000" stroke-width="2" />
<line x1="1582.9" y1="2000.1" x2="1821.0" y2="2000.1" stroke="#000" stroke-width="2" />
<line x1="1576.6" y1="2000.1" x2="1583.9" y2="2000.1" stroke="#000" stroke-width="2" />
<text x="1564.0" y="2010.0" font-size="28" text-anchor="end">–3</text>
<line x1="1576.6" y1="1905.7" x2="1583.9" y2="1905.7" stroke="#000" stroke-width="2" />
<text x="1564.0" y="1915.6" font-size="28" text-anchor="end">–2</text>
<line x1="1576.6" y1="1811.4" x2="1583.9" y2="1811.4" stroke="#000" stroke-width="2" />
<text x="1564.0" y="1821.3" font-size="28" text-anchor="end">–1</text>
<line x1="1576.6" y1="1717.0" x2="1583.9" y2="1717.0" stroke="#000" stroke-width="2" />
<text x="1564.0" y="1726.9" font-size="28" text-anchor="end">0</text>
<line x1="1576.6" y1="1622.6" x2="1583.9" y2="1622.6" stroke="#000" stroke-width="2" />
<text x="1564.0" y="1632.5" font-size="28" text-anchor="end">1</text>
<line x1="1576.6" y1="1528.3" x2="1583.9" y2="1528.3" stroke="#000" stroke-width="2" />
<text x="1564.0" y="1538.2" font-size="28" text-anchor="end">2</text>
<line x1="1576.6" y1="1433.9" x2="1583.9" y2="1433.9" stroke="#000" stroke-width="2" />
<text x="1564.0" y="1443.8" font-size="28" text-anchor="end">3</text>
<line x1="1630.8" y1="2000.1" x2="1630.8" y2="2007.8" stroke="#000" stroke-width="2" />
<line x1="1701.5" y1="2000.1" x2="1701.5" y2="2007.8" stroke="#000" stroke-width="2" />
<line x1="1772.6" y1="2000.1" x2="1772.6" y2="2007.8" stroke="#000" stroke-width="2" />
<line x1="1631.0" y1="1642.0" x2="1631.0" y2="1793.0" stroke="#3a53a4" stroke-width="2.3" />
<line x1="1619.5" y1="1642.0" x2="1642.7" y2="1642.0" stroke="#3a53a4" stroke-width="2.3" />
<line x1="1619.5" y1="1793.0" x2="1642.7" y2="1793.0" stroke="#3a53a4" stroke-width="2.3" />
<rect x="1607.1" y="1699.1" width="47.9" height="37.2" fill="#8690c8" />
<line x1="1607.1" y1="1717.0" x2="1655.0" y2="1717.0" stroke="#3a53a4" stroke-width="4.9" />
<line x1="1701.5" y1="1653.1" x2="1701.5" y2="1821.0" stroke="#8a4a9e" stroke-width="2.3" />
<line x1="1689.7" y1="1653.1" x2="1714.3" y2="1653.1" stroke="#8a4a9e" stroke-width="2.3" />
<line x1="1689.7" y1="1821.0" x2="1714.3" y2="1821.0" stroke="#8a4a9e" stroke-width="2.3" />
<rect x="1677.8" y="1708.3" width="47.4" height="46.9" fill="#c090c4" />
<line x1="1677.8" y1="1717.0" x2="1725.2" y2="1717.0" stroke="#8a4a9e" stroke-width="4.9" />
<line x1="1772.6" y1="1726.7" x2="1772.6" y2="1934.3" stroke="#1e7034" stroke-width="2.3" />
<line x1="1761.3" y1="1726.7" x2="1784.5" y2="1726.7" stroke="#1e7034" stroke-width="2.3" />
<line x1="1761.3" y1="1934.3" x2="1784.5" y2="1934.3" stroke="#1e7034" stroke-width="2.3" />
<rect x="1748.4" y="1774.1" width="48.4" height="56.6" fill="#90d088" />
<line x1="1748.4" y1="1802.2" x2="1796.8" y2="1802.2" stroke="#1e7034" stroke-width="4.9" />
<line x1="1626.0" y1="1544.2" x2="1777.0" y2="1544.2" stroke="#000" stroke-width="2" />
<text x="1694.2" y="1544.4" font-size="23.8" text-anchor="middle" font-weight="bold">****</text>
<line x1="1702.9" y1="1577.1" x2="1778.0" y2="1577.1" stroke="#000" stroke-width="2" />
<text x="1738.8" y="1577.3" font-size="23.8" text-anchor="middle" font-weight="bold">****</text>
<line x1="1626.0" y1="1597.9" x2="1701.0" y2="1597.9" stroke="#000" stroke-width="2" />
<text x="1663.3" y="1598.1" font-size="23.8" text-anchor="middle" font-weight="bold">****</text>
<text x="1466.3" y="1706.3" font-size="29" text-anchor="middle" transform="rotate(-90 1466.3 1706.3)">Fold change in gene expression</text>
<text x="1501.6" y="1708.8" font-size="29" text-anchor="middle" transform="rotate(-90 1501.6 1708.8)">Δlog<tspan dy="8.4" font-size="19.1">2</tspan><tspan dy="-8.4">(FPKM), HDACi v. DMSO</tspan></text>
<text x="1637.1" y="2018.2" font-size="29.3" text-anchor="end" transform="rotate(-90 1637.1 2018.2)">Not TFs (<tspan font-style="italic">n</tspan> = 17,043)</text>
<text x="1708.3" y="2018.2" font-size="29.3" text-anchor="end" transform="rotate(-90 1708.3 2018.2)">All TFs (<tspan font-style="italic">n</tspan> = 1403)</text>
<text x="1778.9" y="2018.2" font-size="29.3" text-anchor="end" transform="rotate(-90 1778.9 2018.2)">Core regulatory TFs (<tspan font-style="italic">n</tspan> = 39)</text>
</g>
</svg>
</body></html>
